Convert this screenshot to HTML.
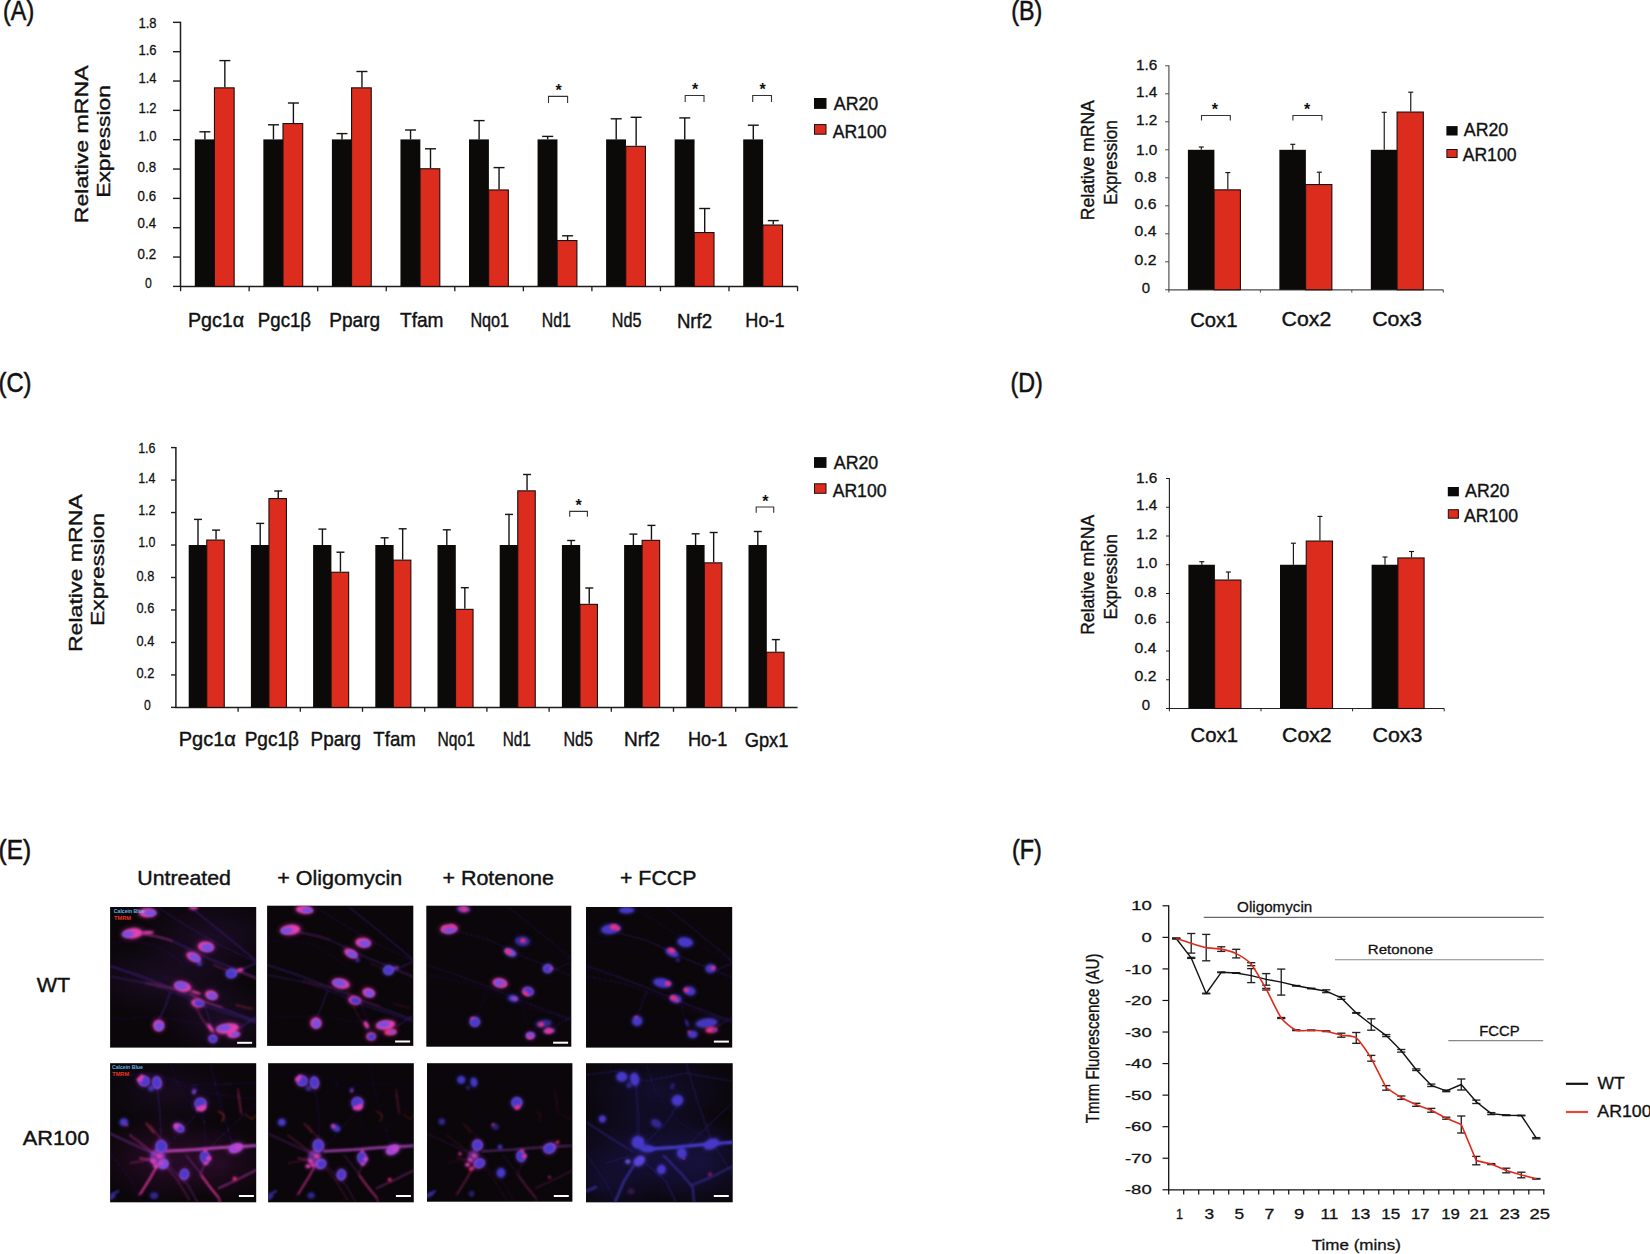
<!DOCTYPE html>
<html lang="en"><head><meta charset="utf-8"><title>Figure</title>
<style>
html,body{margin:0;padding:0;background:#fff;}
body{width:1650px;height:1254px;overflow:hidden;}
svg{display:block;font-family:'Liberation Sans', sans-serif;}
</style></head><body>
<svg width="1650" height="1254" viewBox="0 0 1650 1254">
<defs>
<filter id="b1" x="-10%" y="-10%" width="120%" height="120%"><feGaussianBlur stdDeviation="0.8"/></filter>
<filter id="b05" x="-10%" y="-10%" width="120%" height="120%"><feGaussianBlur stdDeviation="0.5"/></filter>
<filter id="b2" x="-10%" y="-10%" width="120%" height="120%"><feGaussianBlur stdDeviation="1.3"/></filter>
<filter id="b3" x="-20%" y="-20%" width="140%" height="140%"><feGaussianBlur stdDeviation="2.6"/></filter>
<filter id="b6" x="-30%" y="-30%" width="160%" height="160%"><feGaussianBlur stdDeviation="14"/></filter>
<radialGradient id="hzP"><stop offset="0" stop-color="#34164e" stop-opacity="1"/><stop offset="1" stop-color="#34164e" stop-opacity="0"/></radialGradient>
<radialGradient id="hzM"><stop offset="0" stop-color="#5a1458" stop-opacity="1"/><stop offset="1" stop-color="#5a1458" stop-opacity="0"/></radialGradient>
<radialGradient id="hzB"><stop offset="0" stop-color="#201a66" stop-opacity="1"/><stop offset="1" stop-color="#201a66" stop-opacity="0"/></radialGradient>
</defs>
<rect x="0" y="0" width="1650" height="1254" fill="#fff"/>
<g id="panelA">
<text x="3.1" y="19.6" font-size="27.4" fill="#111" stroke="#111" stroke-width="0.55" textLength="31.06" lengthAdjust="spacingAndGlyphs">(A)</text>
<line x1="180.5" y1="21.75" x2="180.5" y2="287" stroke="#1c1c1c" stroke-width="1.5" />
<line x1="179.9" y1="286.4" x2="797.8" y2="286.4" stroke="#1c1c1c" stroke-width="1.5" />
<line x1="173" y1="286.4" x2="180.5" y2="286.4" stroke="#1c1c1c" stroke-width="1.4" />
<text x="145.1" y="288.2" font-size="14.4" fill="#111" stroke="#111" stroke-width="0.29" textLength="6.81" lengthAdjust="spacingAndGlyphs">0</text>
<line x1="173" y1="257.06" x2="180.5" y2="257.06" stroke="#1c1c1c" stroke-width="1.4" />
<text x="137.6" y="258.7" font-size="14.4" fill="#111" stroke="#111" stroke-width="0.29" textLength="18.5" lengthAdjust="spacingAndGlyphs">0.2</text>
<line x1="173" y1="227.72" x2="180.5" y2="227.72" stroke="#1c1c1c" stroke-width="1.4" />
<text x="137.6" y="227.5" font-size="14.4" fill="#111" stroke="#111" stroke-width="0.29" textLength="18.5" lengthAdjust="spacingAndGlyphs">0.4</text>
<line x1="173" y1="198.38" x2="180.5" y2="198.38" stroke="#1c1c1c" stroke-width="1.4" />
<text x="137.6" y="200.9" font-size="14.4" fill="#111" stroke="#111" stroke-width="0.29" textLength="18.5" lengthAdjust="spacingAndGlyphs">0.6</text>
<line x1="173" y1="169.04" x2="180.5" y2="169.04" stroke="#1c1c1c" stroke-width="1.4" />
<text x="137.6" y="171.5" font-size="14.4" fill="#111" stroke="#111" stroke-width="0.29" textLength="18.5" lengthAdjust="spacingAndGlyphs">0.8</text>
<line x1="173" y1="139.71" x2="180.5" y2="139.71" stroke="#1c1c1c" stroke-width="1.4" />
<text x="138.4" y="141.2" font-size="14.4" fill="#111" stroke="#111" stroke-width="0.29" textLength="18.1" lengthAdjust="spacingAndGlyphs">1.0</text>
<line x1="173" y1="110.37" x2="180.5" y2="110.37" stroke="#1c1c1c" stroke-width="1.4" />
<text x="138.4" y="112.7" font-size="14.4" fill="#111" stroke="#111" stroke-width="0.29" textLength="18.1" lengthAdjust="spacingAndGlyphs">1.2</text>
<line x1="173" y1="81.03" x2="180.5" y2="81.03" stroke="#1c1c1c" stroke-width="1.4" />
<text x="138.4" y="82.5" font-size="14.4" fill="#111" stroke="#111" stroke-width="0.29" textLength="18.1" lengthAdjust="spacingAndGlyphs">1.4</text>
<line x1="173" y1="51.69" x2="180.5" y2="51.69" stroke="#1c1c1c" stroke-width="1.4" />
<text x="138.4" y="54.7" font-size="14.4" fill="#111" stroke="#111" stroke-width="0.29" textLength="18.1" lengthAdjust="spacingAndGlyphs">1.6</text>
<line x1="173" y1="22.35" x2="180.5" y2="22.35" stroke="#1c1c1c" stroke-width="1.4" />
<text x="138.4" y="28" font-size="14.4" fill="#111" stroke="#111" stroke-width="0.29" textLength="18.1" lengthAdjust="spacingAndGlyphs">1.8</text>
<line x1="180.6" y1="286.4" x2="180.6" y2="291.2" stroke="#1c1c1c" stroke-width="1.3" />
<line x1="249.15" y1="286.4" x2="249.15" y2="291.2" stroke="#1c1c1c" stroke-width="1.3" />
<line x1="317.7" y1="286.4" x2="317.7" y2="291.2" stroke="#1c1c1c" stroke-width="1.3" />
<line x1="386.25" y1="286.4" x2="386.25" y2="291.2" stroke="#1c1c1c" stroke-width="1.3" />
<line x1="454.8" y1="286.4" x2="454.8" y2="291.2" stroke="#1c1c1c" stroke-width="1.3" />
<line x1="523.35" y1="286.4" x2="523.35" y2="291.2" stroke="#1c1c1c" stroke-width="1.3" />
<line x1="591.9" y1="286.4" x2="591.9" y2="291.2" stroke="#1c1c1c" stroke-width="1.3" />
<line x1="660.45" y1="286.4" x2="660.45" y2="291.2" stroke="#1c1c1c" stroke-width="1.3" />
<line x1="729" y1="286.4" x2="729" y2="291.2" stroke="#1c1c1c" stroke-width="1.3" />
<line x1="797.55" y1="286.4" x2="797.55" y2="291.2" stroke="#1c1c1c" stroke-width="1.3" />
<text x="88" y="223.2" font-size="19" fill="#111" stroke="#111" stroke-width="0.38" textLength="157.79" lengthAdjust="spacingAndGlyphs" transform="rotate(-90 88 223.2)">Relative mRNA</text>
<text x="110.2" y="197.8" font-size="19" fill="#111" stroke="#111" stroke-width="0.38" textLength="112.74" lengthAdjust="spacingAndGlyphs" transform="rotate(-90 110.2 197.8)">Expression</text>
<line x1="204.9" y1="139.4" x2="204.9" y2="131.8" stroke="#141414" stroke-width="1.4" /><line x1="199.4" y1="131.8" x2="210.4" y2="131.8" stroke="#141414" stroke-width="1.4" /><line x1="224.85" y1="87.3" x2="224.85" y2="60.6" stroke="#141414" stroke-width="1.4" /><line x1="219.35" y1="60.6" x2="230.35" y2="60.6" stroke="#141414" stroke-width="1.4" /><rect x="194.8" y="139.4" width="19.9" height="147" fill="#0b0a08" /><rect x="214.45" y="87.85" width="19.7" height="198.55" fill="#dc2c1e" stroke="#1a0e0c" stroke-width="1.1" /><line x1="273.45" y1="139.4" x2="273.45" y2="124.8" stroke="#141414" stroke-width="1.4" /><line x1="267.95" y1="124.8" x2="278.95" y2="124.8" stroke="#141414" stroke-width="1.4" /><line x1="293.4" y1="123" x2="293.4" y2="103" stroke="#141414" stroke-width="1.4" /><line x1="287.9" y1="103" x2="298.9" y2="103" stroke="#141414" stroke-width="1.4" /><rect x="263.35" y="139.4" width="19.9" height="147" fill="#0b0a08" /><rect x="283" y="123.55" width="19.7" height="162.85" fill="#dc2c1e" stroke="#1a0e0c" stroke-width="1.1" /><line x1="342" y1="139.4" x2="342" y2="133.6" stroke="#141414" stroke-width="1.4" /><line x1="336.5" y1="133.6" x2="347.5" y2="133.6" stroke="#141414" stroke-width="1.4" /><line x1="361.95" y1="87.3" x2="361.95" y2="71.5" stroke="#141414" stroke-width="1.4" /><line x1="356.45" y1="71.5" x2="367.45" y2="71.5" stroke="#141414" stroke-width="1.4" /><rect x="331.9" y="139.4" width="19.9" height="147" fill="#0b0a08" /><rect x="351.55" y="87.85" width="19.7" height="198.55" fill="#dc2c1e" stroke="#1a0e0c" stroke-width="1.1" /><line x1="410.55" y1="139.4" x2="410.55" y2="130" stroke="#141414" stroke-width="1.4" /><line x1="405.05" y1="130" x2="416.05" y2="130" stroke="#141414" stroke-width="1.4" /><line x1="430.5" y1="168.2" x2="430.5" y2="148.8" stroke="#141414" stroke-width="1.4" /><line x1="425" y1="148.8" x2="436" y2="148.8" stroke="#141414" stroke-width="1.4" /><rect x="400.45" y="139.4" width="19.9" height="147" fill="#0b0a08" /><rect x="420.1" y="168.75" width="19.7" height="117.65" fill="#dc2c1e" stroke="#1a0e0c" stroke-width="1.1" /><line x1="479.1" y1="139.4" x2="479.1" y2="120.6" stroke="#141414" stroke-width="1.4" /><line x1="473.6" y1="120.6" x2="484.6" y2="120.6" stroke="#141414" stroke-width="1.4" /><line x1="499.05" y1="189.4" x2="499.05" y2="167.6" stroke="#141414" stroke-width="1.4" /><line x1="493.55" y1="167.6" x2="504.55" y2="167.6" stroke="#141414" stroke-width="1.4" /><rect x="469" y="139.4" width="19.9" height="147" fill="#0b0a08" /><rect x="488.65" y="189.95" width="19.7" height="96.45" fill="#dc2c1e" stroke="#1a0e0c" stroke-width="1.1" /><line x1="547.65" y1="139.4" x2="547.65" y2="136.4" stroke="#141414" stroke-width="1.4" /><line x1="542.15" y1="136.4" x2="553.15" y2="136.4" stroke="#141414" stroke-width="1.4" /><line x1="567.6" y1="240" x2="567.6" y2="235.8" stroke="#141414" stroke-width="1.4" /><line x1="562.1" y1="235.8" x2="573.1" y2="235.8" stroke="#141414" stroke-width="1.4" /><rect x="537.55" y="139.4" width="19.9" height="147" fill="#0b0a08" /><rect x="557.2" y="240.55" width="19.7" height="45.85" fill="#dc2c1e" stroke="#1a0e0c" stroke-width="1.1" /><line x1="616.2" y1="139.4" x2="616.2" y2="118.8" stroke="#141414" stroke-width="1.4" /><line x1="610.7" y1="118.8" x2="621.7" y2="118.8" stroke="#141414" stroke-width="1.4" /><line x1="636.15" y1="145.8" x2="636.15" y2="117.3" stroke="#141414" stroke-width="1.4" /><line x1="630.65" y1="117.3" x2="641.65" y2="117.3" stroke="#141414" stroke-width="1.4" /><rect x="606.1" y="139.4" width="19.9" height="147" fill="#0b0a08" /><rect x="625.75" y="146.35" width="19.7" height="140.05" fill="#dc2c1e" stroke="#1a0e0c" stroke-width="1.1" /><line x1="684.75" y1="139.4" x2="684.75" y2="117.9" stroke="#141414" stroke-width="1.4" /><line x1="679.25" y1="117.9" x2="690.25" y2="117.9" stroke="#141414" stroke-width="1.4" /><line x1="704.7" y1="232" x2="704.7" y2="208.5" stroke="#141414" stroke-width="1.4" /><line x1="699.2" y1="208.5" x2="710.2" y2="208.5" stroke="#141414" stroke-width="1.4" /><rect x="674.65" y="139.4" width="19.9" height="147" fill="#0b0a08" /><rect x="694.3" y="232.55" width="19.7" height="53.85" fill="#dc2c1e" stroke="#1a0e0c" stroke-width="1.1" /><line x1="753.3" y1="139.4" x2="753.3" y2="125.2" stroke="#141414" stroke-width="1.4" /><line x1="747.8" y1="125.2" x2="758.8" y2="125.2" stroke="#141414" stroke-width="1.4" /><line x1="773.25" y1="224.5" x2="773.25" y2="220.6" stroke="#141414" stroke-width="1.4" /><line x1="767.75" y1="220.6" x2="778.75" y2="220.6" stroke="#141414" stroke-width="1.4" /><rect x="743.2" y="139.4" width="19.9" height="147" fill="#0b0a08" /><rect x="762.85" y="225.05" width="19.7" height="61.35" fill="#dc2c1e" stroke="#1a0e0c" stroke-width="1.1" />
<text x="187.9" y="327.3" font-size="20.6" fill="#111" stroke="#111" stroke-width="0.41" textLength="56.25" lengthAdjust="spacingAndGlyphs">Pgc1α</text>
<text x="257.8" y="327.3" font-size="20.6" fill="#111" stroke="#111" stroke-width="0.41" textLength="53.29" lengthAdjust="spacingAndGlyphs">Pgc1β</text>
<text x="329.3" y="327" font-size="20.6" fill="#111" stroke="#111" stroke-width="0.41" textLength="50.87" lengthAdjust="spacingAndGlyphs">Pparg</text>
<text x="400" y="326.6" font-size="20.6" fill="#111" stroke="#111" stroke-width="0.41" textLength="43.56" lengthAdjust="spacingAndGlyphs">Tfam</text>
<text x="470.4" y="326.6" font-size="20.6" fill="#111" stroke="#111" stroke-width="0.41" textLength="38.71" lengthAdjust="spacingAndGlyphs">Nqo1</text>
<text x="541.7" y="326.6" font-size="20.6" fill="#111" stroke="#111" stroke-width="0.41" textLength="29.09" lengthAdjust="spacingAndGlyphs">Nd1</text>
<text x="611.8" y="326.6" font-size="20.6" fill="#111" stroke="#111" stroke-width="0.41" textLength="29.69" lengthAdjust="spacingAndGlyphs">Nd5</text>
<text x="676.9" y="327.9" font-size="20.6" fill="#111" stroke="#111" stroke-width="0.41" textLength="35.19" lengthAdjust="spacingAndGlyphs">Nrf2</text>
<text x="745.3" y="327" font-size="20.6" fill="#111" stroke="#111" stroke-width="0.41" textLength="39.26" lengthAdjust="spacingAndGlyphs">Ho-1</text>
<path d="M548.5 103 V96.4 H567.6 V103" stroke="#333" stroke-width="1.1" fill="none" /><text x="555.38" y="96.2" font-size="16" fill="#111" textLength="6.23" lengthAdjust="spacingAndGlyphs" font-weight="bold">*</text>
<path d="M685.2 102 V95.5 H704 V102" stroke="#333" stroke-width="1.1" fill="none" /><text x="691.88" y="95.2" font-size="16" fill="#111" textLength="6.23" lengthAdjust="spacingAndGlyphs" font-weight="bold">*</text>
<path d="M752.7 102 V95.5 H771.5 V102" stroke="#333" stroke-width="1.1" fill="none" /><text x="759.58" y="95.2" font-size="16" fill="#111" textLength="6.23" lengthAdjust="spacingAndGlyphs" font-weight="bold">*</text>
<rect x="814" y="98" width="12.5" height="10.9" fill="#0b0a08" /><rect x="814.5" y="124.6" width="11.5" height="9.6" fill="#dc2c1e" stroke="#1a0e0c" stroke-width="1" /><text x="833.8" y="109.5" font-size="18.3" fill="#111" stroke="#111" stroke-width="0.37" textLength="44.43" lengthAdjust="spacingAndGlyphs">AR20</text><text x="832.7" y="138.2" font-size="18.3" fill="#111" stroke="#111" stroke-width="0.37" textLength="53.76" lengthAdjust="spacingAndGlyphs">AR100</text>
</g>
<g id="panelB">
<text x="1011.3" y="19.6" font-size="27.4" fill="#111" stroke="#111" stroke-width="0.55" textLength="31.06" lengthAdjust="spacingAndGlyphs">(B)</text>
<line x1="1168.9" y1="65.3" x2="1168.9" y2="290.3" stroke="#4a4a4a" stroke-width="1.15" />
<line x1="1168.4" y1="289.8" x2="1443.3" y2="289.8" stroke="#4a4a4a" stroke-width="1.15" />
<line x1="1165.1" y1="289.8" x2="1168.9" y2="289.8" stroke="#4a4a4a" stroke-width="1" />
<text x="1141.8" y="292.5" font-size="15" fill="#111" stroke="#111" stroke-width="0.3" textLength="8.32" lengthAdjust="spacingAndGlyphs">0</text>
<line x1="1165.1" y1="261.8" x2="1168.9" y2="261.8" stroke="#4a4a4a" stroke-width="1" />
<text x="1134.5" y="264.7" font-size="15" fill="#111" stroke="#111" stroke-width="0.3" textLength="21.9" lengthAdjust="spacingAndGlyphs">0.2</text>
<line x1="1165.1" y1="233.8" x2="1168.9" y2="233.8" stroke="#4a4a4a" stroke-width="1" />
<text x="1134.5" y="236.2" font-size="15" fill="#111" stroke="#111" stroke-width="0.3" textLength="21.9" lengthAdjust="spacingAndGlyphs">0.4</text>
<line x1="1165.1" y1="205.8" x2="1168.9" y2="205.8" stroke="#4a4a4a" stroke-width="1" />
<text x="1134.5" y="209.1" font-size="15" fill="#111" stroke="#111" stroke-width="0.3" textLength="21.9" lengthAdjust="spacingAndGlyphs">0.6</text>
<line x1="1165.1" y1="177.8" x2="1168.9" y2="177.8" stroke="#4a4a4a" stroke-width="1" />
<text x="1134.5" y="182.2" font-size="15" fill="#111" stroke="#111" stroke-width="0.3" textLength="21.9" lengthAdjust="spacingAndGlyphs">0.8</text>
<line x1="1165.1" y1="149.8" x2="1168.9" y2="149.8" stroke="#4a4a4a" stroke-width="1" />
<text x="1136" y="154.5" font-size="15" fill="#111" stroke="#111" stroke-width="0.3" textLength="21.3" lengthAdjust="spacingAndGlyphs">1.0</text>
<line x1="1165.1" y1="121.8" x2="1168.9" y2="121.8" stroke="#4a4a4a" stroke-width="1" />
<text x="1136" y="125.1" font-size="15" fill="#111" stroke="#111" stroke-width="0.3" textLength="21.3" lengthAdjust="spacingAndGlyphs">1.2</text>
<line x1="1165.1" y1="93.8" x2="1168.9" y2="93.8" stroke="#4a4a4a" stroke-width="1" />
<text x="1136" y="97.3" font-size="15" fill="#111" stroke="#111" stroke-width="0.3" textLength="21.3" lengthAdjust="spacingAndGlyphs">1.4</text>
<line x1="1165.1" y1="65.8" x2="1168.9" y2="65.8" stroke="#4a4a4a" stroke-width="1" />
<text x="1136" y="69.7" font-size="15" fill="#111" stroke="#111" stroke-width="0.3" textLength="21.3" lengthAdjust="spacingAndGlyphs">1.6</text>
<line x1="1168.9" y1="289.8" x2="1168.9" y2="292.6" stroke="#4a4a4a" stroke-width="1" />
<line x1="1260.37" y1="289.8" x2="1260.37" y2="292.6" stroke="#4a4a4a" stroke-width="1" />
<line x1="1351.83" y1="289.8" x2="1351.83" y2="292.6" stroke="#4a4a4a" stroke-width="1" />
<line x1="1443.3" y1="289.8" x2="1443.3" y2="292.6" stroke="#4a4a4a" stroke-width="1" />
<text x="1094.4" y="220.2" font-size="18.9" fill="#111" stroke="#111" stroke-width="0.38" textLength="120.01" lengthAdjust="spacingAndGlyphs" transform="rotate(-90 1094.4 220.2)">Relative mRNA</text>
<text x="1116.7" y="204.9" font-size="18.9" fill="#111" stroke="#111" stroke-width="0.38" textLength="84.73" lengthAdjust="spacingAndGlyphs" transform="rotate(-90 1116.7 204.9)">Expression</text>
<line x1="1201.3" y1="149.8" x2="1201.3" y2="147" stroke="#141414" stroke-width="1.15" /><line x1="1198.8" y1="147" x2="1203.8" y2="147" stroke="#141414" stroke-width="1.15" /><line x1="1227.83" y1="189.3" x2="1227.83" y2="172.6" stroke="#141414" stroke-width="1.15" /><line x1="1225.33" y1="172.6" x2="1230.33" y2="172.6" stroke="#141414" stroke-width="1.15" /><rect x="1187.9" y="149.8" width="26.5" height="140" fill="#0b0a08" /><rect x="1214.15" y="189.85" width="26.25" height="99.95" fill="#dc2c1e" stroke="#1a0e0c" stroke-width="1.1" /><line x1="1292.77" y1="149.8" x2="1292.77" y2="144.3" stroke="#141414" stroke-width="1.15" /><line x1="1290.27" y1="144.3" x2="1295.27" y2="144.3" stroke="#141414" stroke-width="1.15" /><line x1="1319.29" y1="184" x2="1319.29" y2="172.2" stroke="#141414" stroke-width="1.15" /><line x1="1316.79" y1="172.2" x2="1321.79" y2="172.2" stroke="#141414" stroke-width="1.15" /><rect x="1279.37" y="149.8" width="26.5" height="140" fill="#0b0a08" /><rect x="1305.62" y="184.55" width="26.25" height="105.25" fill="#dc2c1e" stroke="#1a0e0c" stroke-width="1.1" /><line x1="1384.23" y1="149.8" x2="1384.23" y2="112.3" stroke="#141414" stroke-width="1.15" /><line x1="1381.73" y1="112.3" x2="1386.73" y2="112.3" stroke="#141414" stroke-width="1.15" /><line x1="1410.76" y1="111.5" x2="1410.76" y2="92.2" stroke="#141414" stroke-width="1.15" /><line x1="1408.26" y1="92.2" x2="1413.26" y2="92.2" stroke="#141414" stroke-width="1.15" /><rect x="1370.83" y="149.8" width="26.5" height="140" fill="#0b0a08" /><rect x="1397.08" y="112.05" width="26.25" height="177.75" fill="#dc2c1e" stroke="#1a0e0c" stroke-width="1.1" />
<text x="1190.2" y="327.1" font-size="20.6" fill="#111" stroke="#111" stroke-width="0.41" textLength="47.29" lengthAdjust="spacingAndGlyphs">Cox1</text>
<text x="1281.6" y="326" font-size="20.6" fill="#111" stroke="#111" stroke-width="0.41" textLength="49.69" lengthAdjust="spacingAndGlyphs">Cox2</text>
<text x="1372.2" y="326" font-size="20.6" fill="#111" stroke="#111" stroke-width="0.41" textLength="49.69" lengthAdjust="spacingAndGlyphs">Cox3</text>
<path d="M1201.5 120.5 V115.5 H1230.3 V120.5" stroke="#333" stroke-width="1.1" fill="none" /><text x="1211.78" y="115.2" font-size="16" fill="#111" textLength="6.23" lengthAdjust="spacingAndGlyphs" font-weight="bold">*</text>
<path d="M1292.9 120.5 V115.5 H1321.9 V120.5" stroke="#333" stroke-width="1.1" fill="none" /><text x="1303.88" y="115.2" font-size="16" fill="#111" textLength="6.23" lengthAdjust="spacingAndGlyphs" font-weight="bold">*</text>
<rect x="1446.4" y="126.1" width="11.2" height="9.4" fill="#0b0a08" /><rect x="1446.9" y="149.5" width="10.2" height="8" fill="#dc2c1e" stroke="#1a0e0c" stroke-width="1" /><text x="1463.8" y="135.9" font-size="18.3" fill="#111" stroke="#111" stroke-width="0.37" textLength="44.43" lengthAdjust="spacingAndGlyphs">AR20</text><text x="1462.7" y="161.1" font-size="18.3" fill="#111" stroke="#111" stroke-width="0.37" textLength="53.76" lengthAdjust="spacingAndGlyphs">AR100</text>
</g>
<g id="panelC">
<text x="-1.5" y="391.8" font-size="27.4" fill="#111" stroke="#111" stroke-width="0.55" textLength="33.06" lengthAdjust="spacingAndGlyphs">(C)</text>
<line x1="175.9" y1="447" x2="175.9" y2="708" stroke="#1c1c1c" stroke-width="1.5" />
<line x1="175.3" y1="707.4" x2="797.6" y2="707.4" stroke="#1c1c1c" stroke-width="1.5" />
<line x1="171" y1="707.4" x2="175.9" y2="707.4" stroke="#1c1c1c" stroke-width="1.4" />
<text x="143.9" y="710.4" font-size="14.4" fill="#111" stroke="#111" stroke-width="0.29" textLength="6.81" lengthAdjust="spacingAndGlyphs">0</text>
<line x1="171" y1="674.92" x2="175.9" y2="674.92" stroke="#1c1c1c" stroke-width="1.4" />
<text x="136.5" y="677.9" font-size="14.4" fill="#111" stroke="#111" stroke-width="0.29" textLength="17.8" lengthAdjust="spacingAndGlyphs">0.2</text>
<line x1="171" y1="642.45" x2="175.9" y2="642.45" stroke="#1c1c1c" stroke-width="1.4" />
<text x="136.5" y="646.2" font-size="14.4" fill="#111" stroke="#111" stroke-width="0.29" textLength="17.8" lengthAdjust="spacingAndGlyphs">0.4</text>
<line x1="171" y1="609.98" x2="175.9" y2="609.98" stroke="#1c1c1c" stroke-width="1.4" />
<text x="136.5" y="613.3" font-size="14.4" fill="#111" stroke="#111" stroke-width="0.29" textLength="17.8" lengthAdjust="spacingAndGlyphs">0.6</text>
<line x1="171" y1="577.5" x2="175.9" y2="577.5" stroke="#1c1c1c" stroke-width="1.4" />
<text x="136.5" y="580.7" font-size="14.4" fill="#111" stroke="#111" stroke-width="0.29" textLength="17.8" lengthAdjust="spacingAndGlyphs">0.8</text>
<line x1="171" y1="545.02" x2="175.9" y2="545.02" stroke="#1c1c1c" stroke-width="1.4" />
<text x="138.2" y="546.9" font-size="14.4" fill="#111" stroke="#111" stroke-width="0.29" textLength="17.3" lengthAdjust="spacingAndGlyphs">1.0</text>
<line x1="171" y1="512.55" x2="175.9" y2="512.55" stroke="#1c1c1c" stroke-width="1.4" />
<text x="138.2" y="514.6" font-size="14.4" fill="#111" stroke="#111" stroke-width="0.29" textLength="17.3" lengthAdjust="spacingAndGlyphs">1.2</text>
<line x1="171" y1="480.08" x2="175.9" y2="480.08" stroke="#1c1c1c" stroke-width="1.4" />
<text x="138.2" y="482.5" font-size="14.4" fill="#111" stroke="#111" stroke-width="0.29" textLength="17.3" lengthAdjust="spacingAndGlyphs">1.4</text>
<line x1="171" y1="447.6" x2="175.9" y2="447.6" stroke="#1c1c1c" stroke-width="1.4" />
<text x="138.2" y="452.9" font-size="14.4" fill="#111" stroke="#111" stroke-width="0.29" textLength="17.3" lengthAdjust="spacingAndGlyphs">1.6</text>
<line x1="238.1" y1="707.4" x2="238.1" y2="711.8" stroke="#1c1c1c" stroke-width="1.3" />
<line x1="300.3" y1="707.4" x2="300.3" y2="711.8" stroke="#1c1c1c" stroke-width="1.3" />
<line x1="362.5" y1="707.4" x2="362.5" y2="711.8" stroke="#1c1c1c" stroke-width="1.3" />
<line x1="424.7" y1="707.4" x2="424.7" y2="711.8" stroke="#1c1c1c" stroke-width="1.3" />
<line x1="486.9" y1="707.4" x2="486.9" y2="711.8" stroke="#1c1c1c" stroke-width="1.3" />
<line x1="549.1" y1="707.4" x2="549.1" y2="711.8" stroke="#1c1c1c" stroke-width="1.3" />
<line x1="611.3" y1="707.4" x2="611.3" y2="711.8" stroke="#1c1c1c" stroke-width="1.3" />
<line x1="673.5" y1="707.4" x2="673.5" y2="711.8" stroke="#1c1c1c" stroke-width="1.3" />
<line x1="735.7" y1="707.4" x2="735.7" y2="711.8" stroke="#1c1c1c" stroke-width="1.3" />
<text x="81.9" y="652.1" font-size="18.6" fill="#111" stroke="#111" stroke-width="0.37" textLength="157.99" lengthAdjust="spacingAndGlyphs" transform="rotate(-90 81.9 652.1)">Relative mRNA</text>
<text x="104" y="625.9" font-size="18.6" fill="#111" stroke="#111" stroke-width="0.37" textLength="112.74" lengthAdjust="spacingAndGlyphs" transform="rotate(-90 104 625.9)">Expression</text>
<line x1="198" y1="545" x2="198" y2="519.4" stroke="#141414" stroke-width="1.4" /><line x1="194" y1="519.4" x2="202" y2="519.4" stroke="#141414" stroke-width="1.4" /><line x1="216.05" y1="539.5" x2="216.05" y2="530.1" stroke="#141414" stroke-width="1.4" /><line x1="212.05" y1="530.1" x2="220.05" y2="530.1" stroke="#141414" stroke-width="1.4" /><rect x="188.7" y="545" width="18.3" height="162.4" fill="#0b0a08" /><rect x="206.75" y="540.05" width="17.5" height="167.35" fill="#dc2c1e" stroke="#1a0e0c" stroke-width="1.1" /><line x1="260.2" y1="545" x2="260.2" y2="523.4" stroke="#141414" stroke-width="1.4" /><line x1="256.2" y1="523.4" x2="264.2" y2="523.4" stroke="#141414" stroke-width="1.4" /><line x1="278.25" y1="498" x2="278.25" y2="491" stroke="#141414" stroke-width="1.4" /><line x1="274.25" y1="491" x2="282.25" y2="491" stroke="#141414" stroke-width="1.4" /><rect x="250.9" y="545" width="18.3" height="162.4" fill="#0b0a08" /><rect x="268.95" y="498.55" width="17.5" height="208.85" fill="#dc2c1e" stroke="#1a0e0c" stroke-width="1.1" /><line x1="322.4" y1="545" x2="322.4" y2="529.1" stroke="#141414" stroke-width="1.4" /><line x1="318.4" y1="529.1" x2="326.4" y2="529.1" stroke="#141414" stroke-width="1.4" /><line x1="340.45" y1="571.7" x2="340.45" y2="552.2" stroke="#141414" stroke-width="1.4" /><line x1="336.45" y1="552.2" x2="344.45" y2="552.2" stroke="#141414" stroke-width="1.4" /><rect x="313.1" y="545" width="18.3" height="162.4" fill="#0b0a08" /><rect x="331.15" y="572.25" width="17.5" height="135.15" fill="#dc2c1e" stroke="#1a0e0c" stroke-width="1.1" /><line x1="384.6" y1="545" x2="384.6" y2="537.8" stroke="#141414" stroke-width="1.4" /><line x1="380.6" y1="537.8" x2="388.6" y2="537.8" stroke="#141414" stroke-width="1.4" /><line x1="402.65" y1="559.6" x2="402.65" y2="528.8" stroke="#141414" stroke-width="1.4" /><line x1="398.65" y1="528.8" x2="406.65" y2="528.8" stroke="#141414" stroke-width="1.4" /><rect x="375.3" y="545" width="18.3" height="162.4" fill="#0b0a08" /><rect x="393.35" y="560.15" width="17.5" height="147.25" fill="#dc2c1e" stroke="#1a0e0c" stroke-width="1.1" /><line x1="446.8" y1="545" x2="446.8" y2="529.8" stroke="#141414" stroke-width="1.4" /><line x1="442.8" y1="529.8" x2="450.8" y2="529.8" stroke="#141414" stroke-width="1.4" /><line x1="464.85" y1="608.8" x2="464.85" y2="587.7" stroke="#141414" stroke-width="1.4" /><line x1="460.85" y1="587.7" x2="468.85" y2="587.7" stroke="#141414" stroke-width="1.4" /><rect x="437.5" y="545" width="18.3" height="162.4" fill="#0b0a08" /><rect x="455.55" y="609.35" width="17.5" height="98.05" fill="#dc2c1e" stroke="#1a0e0c" stroke-width="1.1" /><line x1="509" y1="545" x2="509" y2="514.4" stroke="#141414" stroke-width="1.4" /><line x1="505" y1="514.4" x2="513" y2="514.4" stroke="#141414" stroke-width="1.4" /><line x1="527.05" y1="490.3" x2="527.05" y2="474.5" stroke="#141414" stroke-width="1.4" /><line x1="523.05" y1="474.5" x2="531.05" y2="474.5" stroke="#141414" stroke-width="1.4" /><rect x="499.7" y="545" width="18.3" height="162.4" fill="#0b0a08" /><rect x="517.75" y="490.85" width="17.5" height="216.55" fill="#dc2c1e" stroke="#1a0e0c" stroke-width="1.1" /><line x1="571.2" y1="545" x2="571.2" y2="540.5" stroke="#141414" stroke-width="1.4" /><line x1="567.2" y1="540.5" x2="575.2" y2="540.5" stroke="#141414" stroke-width="1.4" /><line x1="589.25" y1="603.8" x2="589.25" y2="588" stroke="#141414" stroke-width="1.4" /><line x1="585.25" y1="588" x2="593.25" y2="588" stroke="#141414" stroke-width="1.4" /><rect x="561.9" y="545" width="18.3" height="162.4" fill="#0b0a08" /><rect x="579.95" y="604.35" width="17.5" height="103.05" fill="#dc2c1e" stroke="#1a0e0c" stroke-width="1.1" /><line x1="633.4" y1="545" x2="633.4" y2="534.1" stroke="#141414" stroke-width="1.4" /><line x1="629.4" y1="534.1" x2="637.4" y2="534.1" stroke="#141414" stroke-width="1.4" /><line x1="651.45" y1="539.8" x2="651.45" y2="525.4" stroke="#141414" stroke-width="1.4" /><line x1="647.45" y1="525.4" x2="655.45" y2="525.4" stroke="#141414" stroke-width="1.4" /><rect x="624.1" y="545" width="18.3" height="162.4" fill="#0b0a08" /><rect x="642.15" y="540.35" width="17.5" height="167.05" fill="#dc2c1e" stroke="#1a0e0c" stroke-width="1.1" /><line x1="695.6" y1="545" x2="695.6" y2="533.8" stroke="#141414" stroke-width="1.4" /><line x1="691.6" y1="533.8" x2="699.6" y2="533.8" stroke="#141414" stroke-width="1.4" /><line x1="713.65" y1="562.3" x2="713.65" y2="532.5" stroke="#141414" stroke-width="1.4" /><line x1="709.65" y1="532.5" x2="717.65" y2="532.5" stroke="#141414" stroke-width="1.4" /><rect x="686.3" y="545" width="18.3" height="162.4" fill="#0b0a08" /><rect x="704.35" y="562.85" width="17.5" height="144.55" fill="#dc2c1e" stroke="#1a0e0c" stroke-width="1.1" /><line x1="757.8" y1="545" x2="757.8" y2="531.5" stroke="#141414" stroke-width="1.4" /><line x1="753.8" y1="531.5" x2="761.8" y2="531.5" stroke="#141414" stroke-width="1.4" /><line x1="775.85" y1="651.7" x2="775.85" y2="639.6" stroke="#141414" stroke-width="1.4" /><line x1="771.85" y1="639.6" x2="779.85" y2="639.6" stroke="#141414" stroke-width="1.4" /><rect x="748.5" y="545" width="18.3" height="162.4" fill="#0b0a08" /><rect x="766.55" y="652.25" width="17.5" height="55.15" fill="#dc2c1e" stroke="#1a0e0c" stroke-width="1.1" />
<text x="178.7" y="746" font-size="20.3" fill="#111" stroke="#111" stroke-width="0.41" textLength="57.15" lengthAdjust="spacingAndGlyphs">Pgc1α</text>
<text x="244.7" y="746" font-size="20.3" fill="#111" stroke="#111" stroke-width="0.41" textLength="54.29" lengthAdjust="spacingAndGlyphs">Pgc1β</text>
<text x="310.6" y="746" font-size="20.3" fill="#111" stroke="#111" stroke-width="0.41" textLength="50.37" lengthAdjust="spacingAndGlyphs">Pparg</text>
<text x="373.3" y="746" font-size="20.3" fill="#111" stroke="#111" stroke-width="0.41" textLength="42.56" lengthAdjust="spacingAndGlyphs">Tfam</text>
<text x="437.6" y="746" font-size="20.3" fill="#111" stroke="#111" stroke-width="0.41" textLength="37.31" lengthAdjust="spacingAndGlyphs">Nqo1</text>
<text x="502.7" y="745.6" font-size="20.3" fill="#111" stroke="#111" stroke-width="0.41" textLength="28.09" lengthAdjust="spacingAndGlyphs">Nd1</text>
<text x="563.4" y="745.6" font-size="20.3" fill="#111" stroke="#111" stroke-width="0.41" textLength="29.49" lengthAdjust="spacingAndGlyphs">Nd5</text>
<text x="623.9" y="746" font-size="20.3" fill="#111" stroke="#111" stroke-width="0.41" textLength="36.09" lengthAdjust="spacingAndGlyphs">Nrf2</text>
<text x="687.9" y="745.6" font-size="20.3" fill="#111" stroke="#111" stroke-width="0.41" textLength="39.36" lengthAdjust="spacingAndGlyphs">Ho-1</text>
<text x="744.7" y="746.6" font-size="20.3" fill="#111" stroke="#111" stroke-width="0.41" textLength="43.7" lengthAdjust="spacingAndGlyphs">Gpx1</text>
<path d="M569.7 516.7 V511.4 H587.4 V516.7" stroke="#333" stroke-width="1.1" fill="none" /><text x="575.58" y="511.2" font-size="16" fill="#111" textLength="6.23" lengthAdjust="spacingAndGlyphs" font-weight="bold">*</text>
<path d="M756.2 512.7 V507 H773.7 V512.7" stroke="#333" stroke-width="1.1" fill="none" /><text x="762.18" y="507.2" font-size="16" fill="#111" textLength="6.23" lengthAdjust="spacingAndGlyphs" font-weight="bold">*</text>
<rect x="814" y="457.1" width="12.5" height="10.8" fill="#0b0a08" /><rect x="814.5" y="483.8" width="11.5" height="9.5" fill="#dc2c1e" stroke="#1a0e0c" stroke-width="1" /><text x="833.8" y="468.6" font-size="18.3" fill="#111" stroke="#111" stroke-width="0.37" textLength="44.43" lengthAdjust="spacingAndGlyphs">AR20</text><text x="832.7" y="497.3" font-size="18.3" fill="#111" stroke="#111" stroke-width="0.37" textLength="53.76" lengthAdjust="spacingAndGlyphs">AR100</text>
</g>
<g id="panelD">
<text x="1010.5" y="391.8" font-size="27.4" fill="#111" stroke="#111" stroke-width="0.55" textLength="32.36" lengthAdjust="spacingAndGlyphs">(D)</text>
<line x1="1169.4" y1="478" x2="1169.4" y2="709" stroke="#222" stroke-width="1.15" />
<line x1="1168.9" y1="708.5" x2="1444.2" y2="708.5" stroke="#222" stroke-width="1.15" />
<line x1="1166" y1="708.5" x2="1169.4" y2="708.5" stroke="#222" stroke-width="1" />
<text x="1141.8" y="709.8" font-size="15" fill="#111" stroke="#111" stroke-width="0.3" textLength="8.32" lengthAdjust="spacingAndGlyphs">0</text>
<line x1="1166" y1="679.75" x2="1169.4" y2="679.75" stroke="#222" stroke-width="1" />
<text x="1134.5" y="681.4" font-size="15" fill="#111" stroke="#111" stroke-width="0.3" textLength="21.9" lengthAdjust="spacingAndGlyphs">0.2</text>
<line x1="1166" y1="651" x2="1169.4" y2="651" stroke="#222" stroke-width="1" />
<text x="1134.5" y="652.7" font-size="15" fill="#111" stroke="#111" stroke-width="0.3" textLength="21.9" lengthAdjust="spacingAndGlyphs">0.4</text>
<line x1="1166" y1="622.25" x2="1169.4" y2="622.25" stroke="#222" stroke-width="1" />
<text x="1134.5" y="623.9" font-size="15" fill="#111" stroke="#111" stroke-width="0.3" textLength="21.9" lengthAdjust="spacingAndGlyphs">0.6</text>
<line x1="1166" y1="593.5" x2="1169.4" y2="593.5" stroke="#222" stroke-width="1" />
<text x="1134.5" y="596.6" font-size="15" fill="#111" stroke="#111" stroke-width="0.3" textLength="21.9" lengthAdjust="spacingAndGlyphs">0.8</text>
<line x1="1166" y1="564.75" x2="1169.4" y2="564.75" stroke="#222" stroke-width="1" />
<text x="1136" y="568.1" font-size="15" fill="#111" stroke="#111" stroke-width="0.3" textLength="21.3" lengthAdjust="spacingAndGlyphs">1.0</text>
<line x1="1166" y1="536" x2="1169.4" y2="536" stroke="#222" stroke-width="1" />
<text x="1136" y="539.2" font-size="15" fill="#111" stroke="#111" stroke-width="0.3" textLength="21.3" lengthAdjust="spacingAndGlyphs">1.2</text>
<line x1="1166" y1="507.25" x2="1169.4" y2="507.25" stroke="#222" stroke-width="1" />
<text x="1136" y="510.2" font-size="15" fill="#111" stroke="#111" stroke-width="0.3" textLength="21.3" lengthAdjust="spacingAndGlyphs">1.4</text>
<line x1="1166" y1="478.5" x2="1169.4" y2="478.5" stroke="#222" stroke-width="1" />
<text x="1136" y="482.7" font-size="15" fill="#111" stroke="#111" stroke-width="0.3" textLength="21.3" lengthAdjust="spacingAndGlyphs">1.6</text>
<line x1="1169.4" y1="708.5" x2="1169.4" y2="711.3" stroke="#222" stroke-width="1" />
<line x1="1261" y1="708.5" x2="1261" y2="711.3" stroke="#222" stroke-width="1" />
<line x1="1352.6" y1="708.5" x2="1352.6" y2="711.3" stroke="#222" stroke-width="1" />
<line x1="1444.2" y1="708.5" x2="1444.2" y2="711.3" stroke="#222" stroke-width="1" />
<text x="1094.4" y="634.8" font-size="18.9" fill="#111" stroke="#111" stroke-width="0.38" textLength="119.92" lengthAdjust="spacingAndGlyphs" transform="rotate(-90 1094.4 634.8)">Relative mRNA</text>
<text x="1116.7" y="619.5" font-size="18.9" fill="#111" stroke="#111" stroke-width="0.38" textLength="85.23" lengthAdjust="spacingAndGlyphs" transform="rotate(-90 1116.7 619.5)">Expression</text>
<line x1="1201.8" y1="564.75" x2="1201.8" y2="561.7" stroke="#141414" stroke-width="1.15" /><line x1="1199.3" y1="561.7" x2="1204.3" y2="561.7" stroke="#141414" stroke-width="1.15" /><line x1="1228.33" y1="579.5" x2="1228.33" y2="572" stroke="#141414" stroke-width="1.15" /><line x1="1225.83" y1="572" x2="1230.83" y2="572" stroke="#141414" stroke-width="1.15" /><rect x="1188.4" y="564.75" width="26.5" height="143.75" fill="#0b0a08" /><rect x="1214.65" y="580.05" width="26.25" height="128.45" fill="#dc2c1e" stroke="#1a0e0c" stroke-width="1.1" /><line x1="1293.4" y1="564.75" x2="1293.4" y2="543.2" stroke="#141414" stroke-width="1.15" /><line x1="1290.9" y1="543.2" x2="1295.9" y2="543.2" stroke="#141414" stroke-width="1.15" /><line x1="1319.92" y1="540.5" x2="1319.92" y2="516.4" stroke="#141414" stroke-width="1.15" /><line x1="1317.42" y1="516.4" x2="1322.42" y2="516.4" stroke="#141414" stroke-width="1.15" /><rect x="1280" y="564.75" width="26.5" height="143.75" fill="#0b0a08" /><rect x="1306.25" y="541.05" width="26.25" height="167.45" fill="#dc2c1e" stroke="#1a0e0c" stroke-width="1.1" /><line x1="1385" y1="564.75" x2="1385" y2="557" stroke="#141414" stroke-width="1.15" /><line x1="1382.5" y1="557" x2="1387.5" y2="557" stroke="#141414" stroke-width="1.15" /><line x1="1411.53" y1="557.4" x2="1411.53" y2="551.5" stroke="#141414" stroke-width="1.15" /><line x1="1409.03" y1="551.5" x2="1414.03" y2="551.5" stroke="#141414" stroke-width="1.15" /><rect x="1371.6" y="564.75" width="26.5" height="143.75" fill="#0b0a08" /><rect x="1397.85" y="557.95" width="26.25" height="150.55" fill="#dc2c1e" stroke="#1a0e0c" stroke-width="1.1" />
<text x="1190.6" y="741.5" font-size="20.6" fill="#111" stroke="#111" stroke-width="0.41" textLength="47.39" lengthAdjust="spacingAndGlyphs">Cox1</text>
<text x="1282.1" y="741.5" font-size="20.6" fill="#111" stroke="#111" stroke-width="0.41" textLength="49.59" lengthAdjust="spacingAndGlyphs">Cox2</text>
<text x="1372.6" y="741.5" font-size="20.6" fill="#111" stroke="#111" stroke-width="0.41" textLength="49.79" lengthAdjust="spacingAndGlyphs">Cox3</text>
<rect x="1447.8" y="487" width="11.1" height="9.3" fill="#0b0a08" /><rect x="1448.3" y="509.7" width="10.1" height="8.5" fill="#dc2c1e" stroke="#1a0e0c" stroke-width="1" /><text x="1465.1" y="496.8" font-size="18.3" fill="#111" stroke="#111" stroke-width="0.37" textLength="44.33" lengthAdjust="spacingAndGlyphs">AR20</text><text x="1464" y="521.7" font-size="18.3" fill="#111" stroke="#111" stroke-width="0.37" textLength="53.96" lengthAdjust="spacingAndGlyphs">AR100</text>
</g>
<g id="panelE">
<text x="-1.5" y="858.7" font-size="27.4" fill="#111" stroke="#111" stroke-width="0.55" textLength="32.55" lengthAdjust="spacingAndGlyphs">(E)</text>
<text x="137.3" y="885.1" font-size="19.8" fill="#111" stroke="#111" stroke-width="0.4" textLength="93.64" lengthAdjust="spacingAndGlyphs">Untreated</text>
<text x="277.3" y="885.1" font-size="19.8" fill="#111" stroke="#111" stroke-width="0.4" textLength="124.85" lengthAdjust="spacingAndGlyphs">+ Oligomycin</text>
<text x="442.4" y="885.1" font-size="19.8" fill="#111" stroke="#111" stroke-width="0.4" textLength="111.57" lengthAdjust="spacingAndGlyphs">+ Rotenone</text>
<text x="620" y="885.1" font-size="19.8" fill="#111" stroke="#111" stroke-width="0.4" textLength="76.38" lengthAdjust="spacingAndGlyphs">+ FCCP</text>
<text x="36.8" y="991.6" font-size="21" fill="#111" stroke="#111" stroke-width="0.42" textLength="33.49" lengthAdjust="spacingAndGlyphs">WT</text>
<text x="22.8" y="1144.7" font-size="21" fill="#111" stroke="#111" stroke-width="0.42" textLength="66.45" lengthAdjust="spacingAndGlyphs">AR100</text>
<g transform="translate(110.1 907)">
<clipPath id="cp0"><rect x="0" y="0" width="146.1" height="140.6"/></clipPath>
<rect x="0" y="0" width="146.1" height="140.6" fill="#0a0609" />
<g clip-path="url(#cp0)">
<ellipse cx="100" cy="30" rx="75" ry="40" fill="url(#hzP)" opacity="0.4"/>
<ellipse cx="55" cy="72" rx="85" ry="40" fill="url(#hzP)" opacity="0.4"/>
<ellipse cx="110" cy="112" rx="60" ry="40" fill="url(#hzP)" opacity="0.4"/>
<g filter="url(#b1)" fill="none" stroke-linecap="round" stroke-linejoin="round">
<path d="M0 59 L30 69 L62.8 81.5 L100 97 L146 114" stroke="#3a1f78" stroke-width="1.6" opacity="0.9"/>
<path d="M0 69.3 L40 77 L62 85 L100 101 L146 116" stroke="#3a1f78" stroke-width="1.3" opacity="0.7"/>
<path d="M32 26 L60 33 L100 52 L146 70.5" stroke="#3a1f78" stroke-width="1.5" opacity="0.8"/>
<path d="M82 1.5 L110 24 L146 53.6" stroke="#3a1f78" stroke-width="1.6" opacity="0.7"/>
<path d="M47 0 L75 18 L110 38 L146 55" stroke="#3a1f78" stroke-width="1.2" opacity="0.5"/>
<path d="M60.4 85 L55 100 L48.2 114" stroke="#3a1f78" stroke-width="1.3" opacity="0.8"/>
<path d="M95 100 L100 115 L104 128" stroke="#3a1f78" stroke-width="1.2" opacity="0.6"/>
<path d="M128 64 L146 56" stroke="#3a1f78" stroke-width="1.6" opacity="0.8"/>
<path d="M128 122 L146 110" stroke="#3a1f78" stroke-width="1.6" opacity="0.7"/>
<path d="M0 36 L20 34 L45 38 L80 60" stroke="#3a1f78" stroke-width="1" opacity="0.4"/>
<path d="M0 112 L50 110 L100 118" stroke="#3a1f78" stroke-width="1" opacity="0.35"/>
<path d="M32 27 L50 30 L62 34" stroke="#e03a90" stroke-width="1.3" opacity="0.8" stroke-dasharray="1.2 2"/>
<path d="M36 76 L55 80 L64 82" stroke="#e03a90" stroke-width="1.2" opacity="0.7" stroke-dasharray="1.2 2.2"/>
<path d="M80 86 L95 95 L112 100" stroke="#e03a90" stroke-width="1.3" opacity="0.7" stroke-dasharray="1.2 2"/>
<path d="M104 58 L118 64" stroke="#e03a90" stroke-width="1.2" opacity="0.7" stroke-dasharray="1.2 2"/>
<path d="M126 98 L142 102" stroke="#e04050" stroke-width="1.2" opacity="0.7" stroke-dasharray="1 1.6"/>
<path d="M86 100 L92 112 L97 118" stroke="#e03a90" stroke-width="1.2" opacity="0.7" stroke-dasharray="1.2 2"/>
<path d="M128 64 L146 72" stroke="#e03a90" stroke-width="1.1" opacity="0.6" stroke-dasharray="1 2"/>
</g>
<g filter="url(#b3)" opacity="0.32">
<ellipse cx="37.3" cy="5.7" rx="10.69" ry="5.64" fill="#e23fb0"/>
<ellipse cx="22.5" cy="26.3" rx="12.34" ry="6.46" fill="#e23fb0" transform="rotate(-5 22.5 26.3)"/>
<ellipse cx="38" cy="25.5" rx="7.05" ry="1.76" fill="#e23fb0"/>
<ellipse cx="95.8" cy="39.6" rx="9.99" ry="6.34" fill="#e23fb0" transform="rotate(5 95.8 39.6)"/>
<ellipse cx="83.4" cy="49.9" rx="9.28" ry="5.29" fill="#e23fb0" transform="rotate(25 83.4 49.9)"/>
<ellipse cx="89.5" cy="56.6" rx="2.82" ry="2.58" fill="#4639c8"/>
<ellipse cx="121.6" cy="66.3" rx="7.05" ry="5.76" fill="#7450e0" transform="rotate(-10 121.6 66.3)"/>
<ellipse cx="130" cy="63" rx="4.11" ry="2" fill="#e23fb0" transform="rotate(-15 130 63)"/>
<ellipse cx="72.5" cy="79.6" rx="10.69" ry="6.34" fill="#e23fb0" transform="rotate(12 72.5 79.6)"/>
<ellipse cx="86" cy="85.5" rx="6.46" ry="1.41" fill="#e23fb0" transform="rotate(18 86 85.5)"/>
<ellipse cx="101.3" cy="88.1" rx="7.87" ry="5.64" fill="#e23fb0" transform="rotate(15 101.3 88.1)"/>
<ellipse cx="87.6" cy="96.2" rx="7.99" ry="5.05" fill="#e23fb0" transform="rotate(10 87.6 96.2)"/>
<ellipse cx="48.5" cy="118.4" rx="6.81" ry="7.17" fill="#e23fb0"/>
<ellipse cx="117.3" cy="121.5" rx="14.22" ry="6.34" fill="#e23fb0" transform="rotate(-8 117.3 121.5)"/>
<ellipse cx="123.4" cy="127.5" rx="7.87" ry="3.99" fill="#e23fb0" transform="rotate(-5 123.4 127.5)"/>
<ellipse cx="102.8" cy="131.8" rx="5.4" ry="4.93" fill="#a046dc"/>
<ellipse cx="100.3" cy="121" rx="2.11" ry="6.11" fill="#e23fb0" transform="rotate(-35 100.3 121)"/>
<ellipse cx="83.4" cy="1" rx="5.64" ry="1.76" fill="#e23fb0"/>
</g>
<g filter="url(#b1)">
<ellipse cx="37.3" cy="5.7" rx="8.55" ry="4.51" fill="#e23fb0"/>
<ellipse cx="22.5" cy="26.3" rx="9.87" ry="5.17" fill="#e23fb0" transform="rotate(-5 22.5 26.3)"/>
<ellipse cx="38" cy="25.5" rx="5.64" ry="1.41" fill="#e23fb0"/>
<ellipse cx="95.8" cy="39.6" rx="7.99" ry="5.08" fill="#e23fb0" transform="rotate(5 95.8 39.6)"/>
<ellipse cx="83.4" cy="49.9" rx="7.43" ry="4.23" fill="#e23fb0" transform="rotate(25 83.4 49.9)"/>
<ellipse cx="89.5" cy="56.6" rx="2.26" ry="2.07" fill="#4639c8"/>
<ellipse cx="121.6" cy="66.3" rx="5.64" ry="4.61" fill="#7450e0" transform="rotate(-10 121.6 66.3)"/>
<ellipse cx="130" cy="63" rx="3.29" ry="1.6" fill="#e23fb0" transform="rotate(-15 130 63)"/>
<ellipse cx="72.5" cy="79.6" rx="8.55" ry="5.08" fill="#e23fb0" transform="rotate(12 72.5 79.6)"/>
<ellipse cx="86" cy="85.5" rx="5.17" ry="1.13" fill="#e23fb0" transform="rotate(18 86 85.5)"/>
<ellipse cx="101.3" cy="88.1" rx="6.3" ry="4.51" fill="#e23fb0" transform="rotate(15 101.3 88.1)"/>
<ellipse cx="87.6" cy="96.2" rx="6.39" ry="4.04" fill="#e23fb0" transform="rotate(10 87.6 96.2)"/>
<ellipse cx="48.5" cy="118.4" rx="5.45" ry="5.73" fill="#e23fb0"/>
<ellipse cx="117.3" cy="121.5" rx="11.37" ry="5.08" fill="#e23fb0" transform="rotate(-8 117.3 121.5)"/>
<ellipse cx="123.4" cy="127.5" rx="6.3" ry="3.2" fill="#e23fb0" transform="rotate(-5 123.4 127.5)"/>
<ellipse cx="102.8" cy="131.8" rx="4.32" ry="3.95" fill="#a046dc"/>
<ellipse cx="100.3" cy="121" rx="1.69" ry="4.89" fill="#e23fb0" transform="rotate(-35 100.3 121)"/>
<ellipse cx="83.4" cy="1" rx="4.51" ry="1.41" fill="#e23fb0"/>
</g>
<g filter="url(#b2)">
<ellipse cx="40.3" cy="6" rx="6.24" ry="3.29" fill="#7450e0" opacity="0.95"/>
<ellipse cx="17.5" cy="27.1" rx="6.12" ry="3.21" fill="#7450e0" opacity="0.95" transform="rotate(-5 17.5 27.1)"/>

<ellipse cx="97.4" cy="40.7" rx="6.31" ry="4.01" fill="#7450e0" opacity="0.95" transform="rotate(5 97.4 40.7)"/>
<ellipse cx="84.6" cy="50.9" rx="6.16" ry="3.51" fill="#7450e0" opacity="0.95" transform="rotate(25 84.6 50.9)"/>

<ellipse cx="120.8" cy="66.8" rx="4.91" ry="4.01" fill="#4639c8" opacity="0.95" transform="rotate(-10 120.8 66.8)"/>

<ellipse cx="70.9" cy="78.6" rx="6.59" ry="3.91" fill="#7450e0" opacity="0.95" transform="rotate(12 70.9 78.6)"/>

<ellipse cx="102.3" cy="88.9" rx="4.98" ry="3.56" fill="#7450e0" opacity="0.95" transform="rotate(15 102.3 88.9)"/>
<ellipse cx="89.2" cy="96.4" rx="5.24" ry="3.31" fill="#4639c8" opacity="0.95" transform="rotate(10 89.2 96.4)"/>
<ellipse cx="49.2" cy="119.2" rx="4.53" ry="4.76" fill="#7450e0" opacity="0.95"/>
<ellipse cx="113.8" cy="120.9" rx="7.05" ry="3.15" fill="#7450e0" opacity="0.95" transform="rotate(-8 113.8 120.9)"/>
<ellipse cx="125.4" cy="127.5" rx="4.35" ry="2.21" fill="#7450e0" opacity="0.95" transform="rotate(-5 125.4 127.5)"/>
<ellipse cx="102.8" cy="132.1" rx="3.76" ry="3.43" fill="#4639c8" opacity="0.95"/>


</g>
<g filter="url(#b1)">


















</g>
<text x="3.7" y="5.6" font-size="5.2" fill="#62b4e6" textLength="31" lengthAdjust="spacingAndGlyphs" font-weight="bold">Calcein Blue</text>
<text x="4" y="13.2" font-size="5.2" fill="#e8341c" textLength="17" lengthAdjust="spacingAndGlyphs" font-weight="bold">TMRM</text>
<rect x="127" y="134.8" width="15" height="2" fill="#fff" />
</g></g>
<g transform="translate(267.1 905.7)">
<clipPath id="cp1"><rect x="0" y="0" width="146.2" height="140.2"/></clipPath>
<rect x="0" y="0" width="146.2" height="140.2" fill="#0a0609" />
<g clip-path="url(#cp1)">
<g filter="url(#b1)" fill="none" stroke-linecap="round" stroke-linejoin="round">
<path d="M0 59 L30 69 L62.8 81.5 L100 97 L146 114" stroke="#3a1f78" stroke-width="1.6" opacity="0.63"/>
<path d="M0 69.3 L40 77 L62 85 L100 101 L146 116" stroke="#3a1f78" stroke-width="1.3" opacity="0.49"/>
<path d="M32 26 L60 33 L100 52 L146 70.5" stroke="#3a1f78" stroke-width="1.5" opacity="0.56"/>
<path d="M82 1.5 L110 24 L146 53.6" stroke="#3a1f78" stroke-width="1.6" opacity="0.49"/>
<path d="M47 0 L75 18 L110 38 L146 55" stroke="#3a1f78" stroke-width="1.2" opacity="0.35"/>
<path d="M60.4 85 L55 100 L48.2 114" stroke="#3a1f78" stroke-width="1.3" opacity="0.56"/>
<path d="M95 100 L100 115 L104 128" stroke="#3a1f78" stroke-width="1.2" opacity="0.42"/>
<path d="M128 64 L146 56" stroke="#3a1f78" stroke-width="1.6" opacity="0.56"/>
<path d="M128 122 L146 110" stroke="#3a1f78" stroke-width="1.6" opacity="0.49"/>
<path d="M0 36 L20 34 L45 38 L80 60" stroke="#3a1f78" stroke-width="1" opacity="0.28"/>
<path d="M0 112 L50 110 L100 118" stroke="#3a1f78" stroke-width="1" opacity="0.24"/>
<path d="M32 27 L50 30 L62 34" stroke="#e03a90" stroke-width="1.3" opacity="0.32" stroke-dasharray="1.2 2"/>
<path d="M36 76 L55 80 L64 82" stroke="#e03a90" stroke-width="1.2" opacity="0.28" stroke-dasharray="1.2 2.2"/>
<path d="M80 86 L95 95 L112 100" stroke="#e03a90" stroke-width="1.3" opacity="0.28" stroke-dasharray="1.2 2"/>
<path d="M104 58 L118 64" stroke="#e03a90" stroke-width="1.2" opacity="0.28" stroke-dasharray="1.2 2"/>
<path d="M126 98 L142 102" stroke="#e04050" stroke-width="1.2" opacity="0.28" stroke-dasharray="1 1.6"/>
<path d="M86 100 L92 112 L97 118" stroke="#e03a90" stroke-width="1.2" opacity="0.28" stroke-dasharray="1.2 2"/>
<path d="M128 64 L146 72" stroke="#e03a90" stroke-width="1.1" opacity="0.24" stroke-dasharray="1 2"/>
</g>
<g filter="url(#b3)" opacity="0.32">
<ellipse cx="37.3" cy="4" rx="10.69" ry="4.93" fill="#e23fb0" transform="rotate(5 37.3 4)"/>
<ellipse cx="23.4" cy="24" rx="12.1" ry="6.34" fill="#e23fb0" transform="rotate(-5 23.4 24)"/>
<ellipse cx="96.1" cy="37" rx="9.63" ry="5.99" fill="#e23fb0" transform="rotate(5 96.1 37)"/>
<ellipse cx="83.8" cy="47.6" rx="8.81" ry="4.93" fill="#e23fb0" transform="rotate(25 83.8 47.6)"/>
<ellipse cx="90.5" cy="54.3" rx="2.58" ry="2.35" fill="#352c9c"/>
<ellipse cx="121.6" cy="64.4" rx="6.58" ry="5.76" fill="#7450e0" transform="rotate(-10 121.6 64.4)"/>
<ellipse cx="129" cy="62" rx="3.52" ry="1.88" fill="#a046dc" opacity="0.6" transform="rotate(-15 129 62)"/>
<ellipse cx="73.7" cy="77.9" rx="11.04" ry="6.11" fill="#e23fb0" transform="rotate(12 73.7 77.9)"/>
<ellipse cx="101.6" cy="87" rx="7.87" ry="5.64" fill="#e23fb0" transform="rotate(15 101.6 87)"/>
<ellipse cx="87.6" cy="94.7" rx="7.75" ry="5.29" fill="#e23fb0" transform="rotate(10 87.6 94.7)"/>
<ellipse cx="48.8" cy="117.3" rx="6.81" ry="6.81" fill="#e23fb0"/>
<ellipse cx="118.5" cy="119.2" rx="12.1" ry="5.76" fill="#e23fb0" transform="rotate(-8 118.5 119.2)"/>
<ellipse cx="123.4" cy="126.4" rx="7.87" ry="3.99" fill="#f0307a" transform="rotate(-5 123.4 126.4)"/>
<ellipse cx="104" cy="130.7" rx="5.87" ry="4.93" fill="#e23fb0"/>
<ellipse cx="99.2" cy="119.2" rx="2.35" ry="4.93" fill="#e23fb0" transform="rotate(-25 99.2 119.2)"/>
</g>
<g filter="url(#b1)">
<ellipse cx="37.3" cy="4" rx="8.55" ry="3.95" fill="#e23fb0" transform="rotate(5 37.3 4)"/>
<ellipse cx="23.4" cy="24" rx="9.68" ry="5.08" fill="#e23fb0" transform="rotate(-5 23.4 24)"/>
<ellipse cx="96.1" cy="37" rx="7.71" ry="4.79" fill="#e23fb0" transform="rotate(5 96.1 37)"/>
<ellipse cx="83.8" cy="47.6" rx="7.05" ry="3.95" fill="#e23fb0" transform="rotate(25 83.8 47.6)"/>
<ellipse cx="90.5" cy="54.3" rx="2.07" ry="1.88" fill="#352c9c"/>
<ellipse cx="121.6" cy="64.4" rx="5.26" ry="4.61" fill="#7450e0" transform="rotate(-10 121.6 64.4)"/>
<ellipse cx="129" cy="62" rx="2.82" ry="1.5" fill="#a046dc" opacity="0.6" transform="rotate(-15 129 62)"/>
<ellipse cx="73.7" cy="77.9" rx="8.84" ry="4.89" fill="#e23fb0" transform="rotate(12 73.7 77.9)"/>
<ellipse cx="101.6" cy="87" rx="6.3" ry="4.51" fill="#e23fb0" transform="rotate(15 101.6 87)"/>
<ellipse cx="87.6" cy="94.7" rx="6.2" ry="4.23" fill="#e23fb0" transform="rotate(10 87.6 94.7)"/>
<ellipse cx="48.8" cy="117.3" rx="5.45" ry="5.45" fill="#e23fb0"/>
<ellipse cx="118.5" cy="119.2" rx="9.68" ry="4.61" fill="#e23fb0" transform="rotate(-8 118.5 119.2)"/>
<ellipse cx="123.4" cy="126.4" rx="6.3" ry="3.2" fill="#f0307a" transform="rotate(-5 123.4 126.4)"/>
<ellipse cx="104" cy="130.7" rx="4.7" ry="3.95" fill="#e23fb0"/>
<ellipse cx="99.2" cy="119.2" rx="1.88" ry="3.95" fill="#e23fb0" transform="rotate(-25 99.2 119.2)"/>
</g>
<g filter="url(#b2)">
<ellipse cx="40.3" cy="4.5" rx="5.73" ry="2.65" fill="#7450e0" opacity="0.95" transform="rotate(5 40.3 4.5)"/>
<ellipse cx="19.4" cy="25" rx="6.29" ry="3.3" fill="#7450e0" opacity="0.95" transform="rotate(-5 19.4 25)"/>
<ellipse cx="97.6" cy="38" rx="5.78" ry="3.6" fill="#7450e0" opacity="0.95" transform="rotate(5 97.6 38)"/>
<ellipse cx="85" cy="48.6" rx="5.71" ry="3.2" fill="#7450e0" opacity="0.95" transform="rotate(25 85 48.6)"/>

<ellipse cx="121.1" cy="64.7" rx="4.74" ry="4.15" fill="#4639c8" opacity="0.95" transform="rotate(-10 121.1 64.7)"/>

<ellipse cx="72.2" cy="77.3" rx="6.8" ry="3.76" fill="#7450e0" opacity="0.95" transform="rotate(12 72.2 77.3)"/>
<ellipse cx="102.4" cy="87.6" rx="4.98" ry="3.56" fill="#7450e0" opacity="0.95" transform="rotate(15 102.4 87.6)"/>
<ellipse cx="88.4" cy="95" rx="5.03" ry="3.43" fill="#4639c8" opacity="0.95" transform="rotate(10 88.4 95)"/>
<ellipse cx="49.3" cy="118.2" rx="4.53" ry="4.53" fill="#7450e0" opacity="0.95"/>
<ellipse cx="116.5" cy="118.7" rx="6.49" ry="3.09" fill="#7450e0" opacity="0.95" transform="rotate(-8 116.5 118.7)"/>
<ellipse cx="125.2" cy="126.4" rx="3.9" ry="1.98" fill="#7450e0" opacity="0.95" transform="rotate(-5 125.2 126.4)"/>
<ellipse cx="104.5" cy="131.1" rx="3.9" ry="3.28" fill="#4639c8" opacity="0.95"/>

</g>
<g filter="url(#b1)">















</g>
<rect x="128" y="134.8" width="15" height="2" fill="#fff" />
</g></g>
<g transform="translate(426.3 905.7)">
<clipPath id="cp2"><rect x="0" y="0" width="145" height="141"/></clipPath>
<rect x="0" y="0" width="145" height="141" fill="#0a0609" />
<g clip-path="url(#cp2)">
<g filter="url(#b1)" fill="none" stroke-linecap="round" stroke-linejoin="round">
<path d="M0 59 L30 69 L62.8 81.5 L100 97 L146 114" stroke="#3a1f78" stroke-width="1.6" opacity="0.32"/>
<path d="M0 69.3 L40 77 L62 85 L100 101 L146 116" stroke="#3a1f78" stroke-width="1.3" opacity="0.24"/>
<path d="M32 26 L60 33 L100 52 L146 70.5" stroke="#3a1f78" stroke-width="1.5" opacity="0.28"/>
<path d="M82 1.5 L110 24 L146 53.6" stroke="#3a1f78" stroke-width="1.6" opacity="0.24"/>
<path d="M47 0 L75 18 L110 38 L146 55" stroke="#3a1f78" stroke-width="1.2" opacity="0.17"/>
<path d="M60.4 85 L55 100 L48.2 114" stroke="#3a1f78" stroke-width="1.3" opacity="0.28"/>
<path d="M95 100 L100 115 L104 128" stroke="#3a1f78" stroke-width="1.2" opacity="0.21"/>
<path d="M128 64 L146 56" stroke="#3a1f78" stroke-width="1.6" opacity="0.28"/>
<path d="M128 122 L146 110" stroke="#3a1f78" stroke-width="1.6" opacity="0.24"/>
<path d="M0 36 L20 34 L45 38 L80 60" stroke="#3a1f78" stroke-width="1" opacity="0.14"/>
<path d="M0 112 L50 110 L100 118" stroke="#3a1f78" stroke-width="1" opacity="0.12"/>
</g>
<g filter="url(#b3)" opacity="0.32">
<ellipse cx="37.3" cy="3.4" rx="7.87" ry="4.23" fill="#a046dc" opacity="0.8" transform="rotate(5 37.3 3.4)"/>
<ellipse cx="22.8" cy="23.2" rx="10.69" ry="5.64" fill="#e23fb0" transform="rotate(-5 22.8 23.2)"/>
<ellipse cx="96.1" cy="35.5" rx="9.16" ry="5.87" fill="#352c9c" transform="rotate(5 96.1 35.5)"/>
<ellipse cx="84" cy="46.7" rx="7.87" ry="4.46" fill="#7450e0" transform="rotate(25 84 46.7)"/>
<ellipse cx="121.6" cy="62.8" rx="5.99" ry="5.4" fill="#7450e0" transform="rotate(-10 121.6 62.8)"/>
<ellipse cx="73.7" cy="77.3" rx="9.28" ry="5.64" fill="#e23fb0" transform="rotate(10 73.7 77.3)"/>
<ellipse cx="101.6" cy="85.8" rx="7.05" ry="5.4" fill="#a046dc" transform="rotate(15 101.6 85.8)"/>
<ellipse cx="87" cy="92.7" rx="7.05" ry="4.58" fill="#352c9c" transform="rotate(10 87 92.7)"/>
<ellipse cx="48.5" cy="116.1" rx="6.34" ry="5.99" fill="#7450e0"/>
<ellipse cx="117.3" cy="117.9" rx="9.99" ry="4.58" fill="#352c9c" opacity="0.9" transform="rotate(-8 117.3 117.9)"/>
<ellipse cx="122.8" cy="125.2" rx="7.05" ry="3.17" fill="#a046dc" transform="rotate(-5 122.8 125.2)"/>
<ellipse cx="104" cy="130" rx="5.64" ry="4.23" fill="#a046dc"/>
</g>
<g filter="url(#b1)">
<ellipse cx="37.3" cy="3.4" rx="6.3" ry="3.38" fill="#a046dc" opacity="0.8" transform="rotate(5 37.3 3.4)"/>
<ellipse cx="22.8" cy="23.2" rx="8.55" ry="4.51" fill="#e23fb0" transform="rotate(-5 22.8 23.2)"/>
<ellipse cx="96.1" cy="35.5" rx="7.33" ry="4.7" fill="#352c9c" transform="rotate(5 96.1 35.5)"/>
<ellipse cx="84" cy="46.7" rx="6.3" ry="3.57" fill="#7450e0" transform="rotate(25 84 46.7)"/>
<ellipse cx="121.6" cy="62.8" rx="4.79" ry="4.32" fill="#7450e0" transform="rotate(-10 121.6 62.8)"/>
<ellipse cx="73.7" cy="77.3" rx="7.43" ry="4.51" fill="#e23fb0" transform="rotate(10 73.7 77.3)"/>
<ellipse cx="101.6" cy="85.8" rx="5.64" ry="4.32" fill="#a046dc" transform="rotate(15 101.6 85.8)"/>
<ellipse cx="87" cy="92.7" rx="5.64" ry="3.67" fill="#352c9c" transform="rotate(10 87 92.7)"/>
<ellipse cx="48.5" cy="116.1" rx="5.08" ry="4.79" fill="#7450e0"/>
<ellipse cx="117.3" cy="117.9" rx="7.99" ry="3.67" fill="#352c9c" opacity="0.9" transform="rotate(-8 117.3 117.9)"/>
<ellipse cx="122.8" cy="125.2" rx="5.64" ry="2.54" fill="#a046dc" transform="rotate(-5 122.8 125.2)"/>
<ellipse cx="104" cy="130" rx="4.51" ry="3.38" fill="#a046dc"/>
</g>
<g filter="url(#b2)">

<ellipse cx="23.1" cy="24" rx="7.19" ry="3.79" fill="#7450e0" opacity="0.95" transform="rotate(-5 23.1 24)"/>


<ellipse cx="121.1" cy="63.1" rx="4.07" ry="3.68" fill="#4639c8" opacity="0.95" transform="rotate(-10 121.1 63.1)"/>
<ellipse cx="74" cy="77.5" rx="6.09" ry="3.7" fill="#7450e0" opacity="0.95" transform="rotate(10 74 77.5)"/>
<ellipse cx="102.4" cy="85.5" rx="4.79" ry="3.68" fill="#4639c8" opacity="0.95" transform="rotate(15 102.4 85.5)"/>
<ellipse cx="87.5" cy="92.7" rx="3.38" ry="2.2" fill="#7450e0" opacity="0.95" transform="rotate(10 87.5 92.7)"/>
<ellipse cx="48.8" cy="116.6" rx="4.47" ry="4.22" fill="#4639c8" opacity="0.95"/>


<ellipse cx="104.3" cy="129.5" rx="3.61" ry="2.71" fill="#7450e0" opacity="0.95"/>
</g>
<g filter="url(#b1)">
<ellipse cx="37.8" cy="3.4" rx="2.86" ry="2.09" fill="#f0307a" opacity="0.95" transform="rotate(5 37.8 3.4)"/>
<ellipse cx="18.3" cy="22" rx="2.6" ry="1.9" fill="#f0307a" opacity="0.95" transform="rotate(-5 18.3 22)"/><ellipse cx="25.8" cy="21" rx="2.86" ry="2.09" fill="#f0307a" opacity="0.95" transform="rotate(-5 25.8 21)"/>
<ellipse cx="96.6" cy="35" rx="2.86" ry="2.09" fill="#f0307a" opacity="0.95" transform="rotate(5 96.6 35)"/>
<ellipse cx="82" cy="45.9" rx="3.38" ry="2.47" fill="#f0307a" opacity="0.95" transform="rotate(25 82 45.9)"/>
<ellipse cx="124.8" cy="63" rx="1.69" ry="1.23" fill="#f0307a" opacity="0.95" transform="rotate(-10 124.8 63)"/>
<ellipse cx="77.2" cy="78.8" rx="2.34" ry="1.71" fill="#f0307a" opacity="0.95" transform="rotate(10 77.2 78.8)"/>
<ellipse cx="98.6" cy="86.8" rx="2.34" ry="1.71" fill="#f0307a" opacity="0.95" transform="rotate(15 98.6 86.8)"/><ellipse cx="100.6" cy="88.8" rx="2.08" ry="1.52" fill="#f0307a" opacity="0.95" transform="rotate(15 100.6 88.8)"/>
<ellipse cx="89.5" cy="93.2" rx="1.56" ry="1.14" fill="#f0307a" opacity="0.95" transform="rotate(10 89.5 93.2)"/>
<ellipse cx="46" cy="112.6" rx="1.69" ry="1.23" fill="#f0307a" opacity="0.95"/>
<ellipse cx="114.8" cy="118.7" rx="3.12" ry="2.28" fill="#f0307a" opacity="0.95" transform="rotate(-8 114.8 118.7)"/>
<ellipse cx="122.3" cy="125.2" rx="3.38" ry="2.47" fill="#f0307a" opacity="0.95" transform="rotate(-5 122.3 125.2)"/>
<ellipse cx="103.5" cy="131.8" rx="2.34" ry="1.71" fill="#f0307a" opacity="0.95"/>
</g>
<rect x="126.8" y="136" width="15" height="2" fill="#fff" />
</g></g>
<g transform="translate(586 907)">
<clipPath id="cp3"><rect x="0" y="0" width="146.2" height="140.6"/></clipPath>
<rect x="0" y="0" width="146.2" height="140.6" fill="#0a0609" />
<g clip-path="url(#cp3)">
<g filter="url(#b1)" fill="none" stroke-linecap="round" stroke-linejoin="round">
<path d="M0 59 L30 69 L62.8 81.5 L100 97 L146 114" stroke="#3a1f78" stroke-width="1.6" opacity="0.45"/>
<path d="M0 69.3 L40 77 L62 85 L100 101 L146 116" stroke="#3a1f78" stroke-width="1.3" opacity="0.35"/>
<path d="M32 26 L60 33 L100 52 L146 70.5" stroke="#3a1f78" stroke-width="1.5" opacity="0.4"/>
<path d="M82 1.5 L110 24 L146 53.6" stroke="#3a1f78" stroke-width="1.6" opacity="0.35"/>
<path d="M47 0 L75 18 L110 38 L146 55" stroke="#3a1f78" stroke-width="1.2" opacity="0.25"/>
<path d="M60.4 85 L55 100 L48.2 114" stroke="#3a1f78" stroke-width="1.3" opacity="0.4"/>
<path d="M95 100 L100 115 L104 128" stroke="#3a1f78" stroke-width="1.2" opacity="0.3"/>
<path d="M128 64 L146 56" stroke="#3a1f78" stroke-width="1.6" opacity="0.4"/>
<path d="M128 122 L146 110" stroke="#3a1f78" stroke-width="1.6" opacity="0.35"/>
<path d="M0 36 L20 34 L45 38 L80 60" stroke="#3a1f78" stroke-width="1" opacity="0.2"/>
<path d="M0 112 L50 110 L100 118" stroke="#3a1f78" stroke-width="1" opacity="0.17"/>
</g>
<g filter="url(#b3)" opacity="0.32">
<ellipse cx="40.6" cy="3.3" rx="9.28" ry="3.99" fill="#4639c8"/>
<ellipse cx="24.8" cy="22" rx="12.1" ry="5.99" fill="#4639c8" transform="rotate(-8 24.8 22)"/>
<ellipse cx="99.2" cy="35.2" rx="9.63" ry="5.99" fill="#4639c8" transform="rotate(8 99.2 35.2)"/>
<ellipse cx="86" cy="45.7" rx="8.58" ry="4.58" fill="#4639c8" transform="rotate(25 86 45.7)"/>
<ellipse cx="92" cy="53" rx="2.58" ry="2.35" fill="#352c9c" opacity="0.7"/>
<ellipse cx="124.6" cy="61.5" rx="6.34" ry="5.4" fill="#4639c8" transform="rotate(-10 124.6 61.5)"/>
<ellipse cx="76.4" cy="76" rx="11.4" ry="5.64" fill="#4639c8" transform="rotate(10 76.4 76)"/>
<ellipse cx="103.6" cy="83.9" rx="7.4" ry="5.4" fill="#4639c8" transform="rotate(15 103.6 83.9)"/>
<ellipse cx="89.7" cy="91.8" rx="7.4" ry="4.93" fill="#4639c8" transform="rotate(10 89.7 91.8)"/>
<ellipse cx="51.2" cy="114" rx="6.34" ry="6.23" fill="#4639c8"/>
<ellipse cx="120.6" cy="116" rx="13.51" ry="5.64" fill="#4639c8" opacity="0.92" transform="rotate(-6 120.6 116)"/>
<ellipse cx="125.5" cy="123" rx="7.4" ry="3.52" fill="#f0307a" transform="rotate(-5 125.5 123)"/>
<ellipse cx="106.7" cy="127.3" rx="5.99" ry="4.58" fill="#4639c8"/>
<ellipse cx="101" cy="116" rx="1.88" ry="4.7" fill="#352c9c" opacity="0.8" transform="rotate(-20 101 116)"/>
</g>
<g filter="url(#b1)">
<ellipse cx="40.6" cy="3.3" rx="7.43" ry="3.2" fill="#4639c8"/>
<ellipse cx="24.8" cy="22" rx="9.68" ry="4.79" fill="#4639c8" transform="rotate(-8 24.8 22)"/>
<ellipse cx="99.2" cy="35.2" rx="7.71" ry="4.79" fill="#4639c8" transform="rotate(8 99.2 35.2)"/>
<ellipse cx="86" cy="45.7" rx="6.86" ry="3.67" fill="#4639c8" transform="rotate(25 86 45.7)"/>
<ellipse cx="92" cy="53" rx="2.07" ry="1.88" fill="#352c9c" opacity="0.7"/>
<ellipse cx="124.6" cy="61.5" rx="5.08" ry="4.32" fill="#4639c8" transform="rotate(-10 124.6 61.5)"/>
<ellipse cx="76.4" cy="76" rx="9.12" ry="4.51" fill="#4639c8" transform="rotate(10 76.4 76)"/>
<ellipse cx="103.6" cy="83.9" rx="5.92" ry="4.32" fill="#4639c8" transform="rotate(15 103.6 83.9)"/>
<ellipse cx="89.7" cy="91.8" rx="5.92" ry="3.95" fill="#4639c8" transform="rotate(10 89.7 91.8)"/>
<ellipse cx="51.2" cy="114" rx="5.08" ry="4.98" fill="#4639c8"/>
<ellipse cx="120.6" cy="116" rx="10.81" ry="4.51" fill="#4639c8" opacity="0.92" transform="rotate(-6 120.6 116)"/>
<ellipse cx="125.5" cy="123" rx="5.92" ry="2.82" fill="#f0307a" transform="rotate(-5 125.5 123)"/>
<ellipse cx="106.7" cy="127.3" rx="4.79" ry="3.67" fill="#4639c8"/>
<ellipse cx="101" cy="116" rx="1.5" ry="3.76" fill="#352c9c" opacity="0.8" transform="rotate(-20 101 116)"/>
</g>
<g filter="url(#b2)">











<ellipse cx="128.5" cy="123.5" rx="2.96" ry="1.41" fill="#4639c8" opacity="0.95" transform="rotate(-5 128.5 123.5)"/>


</g>
<g filter="url(#b1)">

<ellipse cx="27.8" cy="20" rx="3.9" ry="2.85" fill="#f0307a" opacity="0.95" transform="rotate(-8 27.8 20)"/><ellipse cx="31.8" cy="21.5" rx="2.6" ry="1.9" fill="#f0307a" opacity="0.95" transform="rotate(-8 31.8 21.5)"/>

<ellipse cx="85.5" cy="43.5" rx="3.64" ry="2.66" fill="#f0307a" opacity="0.95" transform="rotate(25 85.5 43.5)"/>

<ellipse cx="127.1" cy="61" rx="2.6" ry="1.9" fill="#f0307a" opacity="0.95" transform="rotate(-10 127.1 61)"/>
<ellipse cx="81.9" cy="76.5" rx="3.12" ry="2.28" fill="#f0307a" opacity="0.95" transform="rotate(10 81.9 76.5)"/>
<ellipse cx="100.3" cy="83.1" rx="2.86" ry="2.09" fill="#f0307a" opacity="0.95" transform="rotate(15 100.3 83.1)"/>
<ellipse cx="87.2" cy="90.8" rx="3.38" ry="2.47" fill="#f0307a" opacity="0.95" transform="rotate(10 87.2 90.8)"/><ellipse cx="90.7" cy="93.3" rx="2.08" ry="1.52" fill="#f0307a" opacity="0.95" transform="rotate(10 90.7 93.3)"/>
<ellipse cx="50" cy="110.2" rx="1.56" ry="1.14" fill="#f0307a" opacity="0.95"/>


<ellipse cx="103.2" cy="125.1" rx="1.69" ry="1.23" fill="#f0307a" opacity="0.95"/>

</g>
<rect x="127.9" y="133.6" width="15" height="2" fill="#fff" />
</g></g>
<g transform="translate(110.1 1063.2)">
<clipPath id="cp10"><rect x="0" y="0" width="146.1" height="139.1"/></clipPath>
<rect x="0" y="0" width="146.1" height="139.1" fill="#0a0609" />
<g clip-path="url(#cp10)">
<ellipse cx="55" cy="95" rx="70" ry="45" fill="url(#hzM)" opacity="0.4"/>
<ellipse cx="112" cy="100" rx="50" ry="40" fill="url(#hzM)" opacity="0.3"/>
<ellipse cx="60" cy="30" rx="70" ry="35" fill="url(#hzP)" opacity="0.3"/>
<g filter="url(#b1)" fill="none" stroke-linecap="round" stroke-linejoin="round">
<path d="M56 88 L85 86.5 L110 84.5 L146 82.5" stroke="#a050d0" stroke-width="2.8" opacity="0.95"/>
<path d="M0 70.5 L25 82 L48 92.4" stroke="#7a30a0" stroke-width="1.4" opacity="0.8"/>
<path d="M48 100.8 L40 115 L30 131" stroke="#c02a90" stroke-width="2" opacity="0.9"/>
<path d="M91.9 113 L100 124 L108.8 134.8 L110 140" stroke="#c02a90" stroke-width="1.9" opacity="0.85"/>
<path d="M108.8 125 L128 116 L146 107" stroke="#7a30a0" stroke-width="1.4" opacity="0.8"/>
<path d="M76 92 L92 112" stroke="#7a30a0" stroke-width="1.3" opacity="0.7"/>
<path d="M47 25 L50 50 L51 76" stroke="#2a1858" stroke-width="1.3" opacity="0.8"/>
<path d="M0 14 L40 10 L80 22 L146 20" stroke="#2a1858" stroke-width="1.2" opacity="0.5"/>
<path d="M90 46 L80 58 L60 80" stroke="#2a1858" stroke-width="1.2" opacity="0.6"/>
<path d="M60 104 L78 122 L88 140" stroke="#7a30a0" stroke-width="1.2" opacity="0.6"/>
<path d="M100 0 L110 40 L122 80" stroke="#2a1858" stroke-width="1.2" opacity="0.6"/>
<path d="M146 40 L125 60 L100 84" stroke="#2a1858" stroke-width="1.1" opacity="0.5"/>
<path d="M20 100 L45 96" stroke="#b02378" stroke-width="1.2" opacity="0.6"/>
<path d="M128 30 L131 50" stroke="#b02378" stroke-width="1" opacity="0.5"/>
<path d="M40 62 L52 78" stroke="#b02378" stroke-width="1.2" opacity="0.6"/>
<path d="M0 90 L22 118 L30 139" stroke="#2a1858" stroke-width="1.1" opacity="0.5"/>
<path d="M60 0 L72 30 L96 60 L146 92" stroke="#2a1858" stroke-width="1" opacity="0.45"/>
<path d="M0 132 L8 128" stroke="#4038c0" stroke-width="2.2" opacity="0.8"/>
<path d="M56 88 L85 86.5 L110 84.5 L140 82.8" stroke="#e03aa0" stroke-width="2.2" opacity="0.8" stroke-dasharray="1.2 2.6"/>
<path d="M48 100.8 L40 115 L30 131" stroke="#f040a0" stroke-width="1.6" opacity="0.9" stroke-dasharray="1.5 2"/>
<path d="M91.9 113 L100 124 L108.8 134.8" stroke="#f040a0" stroke-width="1.6" opacity="0.9" stroke-dasharray="1.5 2"/>
<path d="M20 72 L36 84 L46 92" stroke="#e03aa0" stroke-width="1.4" opacity="0.8" stroke-dasharray="1.2 2.2"/>
<path d="M55 102 L68 118 L80 138" stroke="#d03098" stroke-width="1.3" opacity="0.7" stroke-dasharray="1.2 2.5"/>
<path d="M108.8 125 L128 116 L146 107" stroke="#e03aa0" stroke-width="1.3" opacity="0.7" stroke-dasharray="1.2 2.5"/>
<path d="M30 95 L44 97" stroke="#f040a0" stroke-width="1.6" opacity="0.8" stroke-dasharray="1.2 1.8"/>
<path d="M108 48 L114 52 L112 58" stroke="#e04030" stroke-width="1.2" opacity="0.7" stroke-dasharray="1 1.5"/>
<path d="M136 52 L142 56 L146 52" stroke="#e04030" stroke-width="1.1" opacity="0.6" stroke-dasharray="1 1.5"/>
<path d="M128 26 L131 50" stroke="#e03a70" stroke-width="1.2" opacity="0.7" stroke-dasharray="1 2"/>
<path d="M36 60 L44 70" stroke="#f04050" stroke-width="1.3" opacity="0.8" stroke-dasharray="1.2 1.5"/>
<path d="M95 100 L90 112" stroke="#e03aa0" stroke-width="1.3" opacity="0.7" stroke-dasharray="1.2 2"/>
<path d="M60 20 L100 30 L146 36" stroke="#2a1858" stroke-width="1.1" opacity="0.5"/>
<path d="M93 47 L96 88" stroke="#2a1858" stroke-width="1.1" opacity="0.55"/>
</g>
<g filter="url(#b3)" opacity="0.32">
<ellipse cx="33.7" cy="17.8" rx="7.05" ry="6.58" fill="#a046dc"/>
<ellipse cx="47" cy="19.6" rx="5.64" ry="7.87" fill="#a046dc" transform="rotate(-10 47 19.6)"/>
<ellipse cx="41" cy="25" rx="3.52" ry="3.52" fill="#4639c8" opacity="0.9"/>
<ellipse cx="84" cy="28" rx="3.05" ry="4.46" fill="#352c9c" opacity="0.8" transform="rotate(15 84 28)"/>
<ellipse cx="90.7" cy="40.8" rx="7.4" ry="7.17" fill="#a046dc" transform="rotate(-30 90.7 40.8)"/>
<ellipse cx="13.7" cy="59" rx="4.93" ry="4.58" fill="#4639c8"/>
<ellipse cx="68.8" cy="64.5" rx="7.28" ry="5.17" fill="#a046dc" transform="rotate(30 68.8 64.5)"/>
<ellipse cx="47.5" cy="94" rx="9.4" ry="11.16" fill="#a046dc" opacity="0.6" transform="rotate(15 47.5 94)"/>
<ellipse cx="51.3" cy="83.3" rx="7.05" ry="7.87" fill="#a046dc" transform="rotate(-10 51.3 83.3)"/>
<ellipse cx="53" cy="100.8" rx="7.05" ry="6.11" fill="#a046dc" transform="rotate(-30 53 100.8)"/>
<ellipse cx="125.8" cy="85" rx="9.4" ry="5.87" fill="#b04ad0" transform="rotate(-20 125.8 85)"/>
<ellipse cx="95.3" cy="94.2" rx="5.99" ry="7.87" fill="#a046dc" transform="rotate(-10 95.3 94.2)"/>
<ellipse cx="74.3" cy="111.2" rx="5.64" ry="6.81" fill="#a046dc" transform="rotate(10 74.3 111.2)"/>
<ellipse cx="44" cy="132.4" rx="4.93" ry="3.99" fill="#352c9c" opacity="0.85"/>
<ellipse cx="124.6" cy="115.4" rx="2.35" ry="2.35" fill="#f0307a"/>
<ellipse cx="2" cy="134" rx="4.7" ry="1.88" fill="#4639c8" opacity="0.8" transform="rotate(-35 2 134)"/>
</g>
<g filter="url(#b1)">
<ellipse cx="33.7" cy="17.8" rx="5.64" ry="5.26" fill="#a046dc"/>
<ellipse cx="47" cy="19.6" rx="4.51" ry="6.3" fill="#a046dc" transform="rotate(-10 47 19.6)"/>
<ellipse cx="41" cy="25" rx="2.82" ry="2.82" fill="#4639c8" opacity="0.9"/>
<ellipse cx="84" cy="28" rx="2.44" ry="3.57" fill="#352c9c" opacity="0.8" transform="rotate(15 84 28)"/>
<ellipse cx="90.7" cy="40.8" rx="5.92" ry="5.73" fill="#a046dc" transform="rotate(-30 90.7 40.8)"/>
<ellipse cx="13.7" cy="59" rx="3.95" ry="3.67" fill="#4639c8"/>
<ellipse cx="68.8" cy="64.5" rx="5.83" ry="4.14" fill="#a046dc" transform="rotate(30 68.8 64.5)"/>
<ellipse cx="47.5" cy="94" rx="7.52" ry="8.93" fill="#a046dc" opacity="0.6" transform="rotate(15 47.5 94)"/>
<ellipse cx="51.3" cy="83.3" rx="5.64" ry="6.3" fill="#a046dc" transform="rotate(-10 51.3 83.3)"/>
<ellipse cx="53" cy="100.8" rx="5.64" ry="4.89" fill="#a046dc" transform="rotate(-30 53 100.8)"/>
<ellipse cx="125.8" cy="85" rx="7.52" ry="4.7" fill="#b04ad0" transform="rotate(-20 125.8 85)"/>
<ellipse cx="95.3" cy="94.2" rx="4.79" ry="6.3" fill="#a046dc" transform="rotate(-10 95.3 94.2)"/>
<ellipse cx="74.3" cy="111.2" rx="4.51" ry="5.45" fill="#a046dc" transform="rotate(10 74.3 111.2)"/>
<ellipse cx="44" cy="132.4" rx="3.95" ry="3.2" fill="#352c9c" opacity="0.85"/>
<ellipse cx="124.6" cy="115.4" rx="1.88" ry="1.88" fill="#f0307a"/>
<ellipse cx="2" cy="134" rx="3.76" ry="1.5" fill="#4639c8" opacity="0.8" transform="rotate(-35 2 134)"/>
</g>
<g filter="url(#b2)">
<ellipse cx="34.5" cy="18" rx="5.08" ry="4.74" fill="#4639c8" opacity="0.95"/>
<ellipse cx="46.7" cy="19.3" rx="4.06" ry="5.67" fill="#4639c8" opacity="0.95" transform="rotate(-10 46.7 19.3)"/>

<ellipse cx="84" cy="28.8" rx="1.22" ry="1.79" fill="#e23fb0" opacity="0.95" transform="rotate(15 84 28.8)"/>
<ellipse cx="89.9" cy="39.8" rx="5.33" ry="5.16" fill="#4639c8" opacity="0.95" transform="rotate(-30 89.9 39.8)"/>

<ellipse cx="70.2" cy="65.9" rx="3.61" ry="2.56" fill="#4639c8" opacity="0.95" transform="rotate(30 70.2 65.9)"/>

<ellipse cx="51.3" cy="83" rx="5.08" ry="5.67" fill="#4639c8" opacity="0.95" transform="rotate(-10 51.3 83)"/>
<ellipse cx="54" cy="101.1" rx="4.51" ry="3.91" fill="#7450e0" opacity="0.95" transform="rotate(-30 54 101.1)"/>
<ellipse cx="125.8" cy="85" rx="5.26" ry="3.29" fill="#a046dc" opacity="0.95" transform="rotate(-20 125.8 85)"/>
<ellipse cx="94.8" cy="93.8" rx="4.41" ry="5.79" fill="#4639c8" opacity="0.95" transform="rotate(-10 94.8 93.8)"/>
<ellipse cx="74.3" cy="110.8" rx="4.06" ry="4.91" fill="#4639c8" opacity="0.95" transform="rotate(10 74.3 110.8)"/>



</g>
<g filter="url(#b1)">
<ellipse cx="29.7" cy="16.3" rx="3.12" ry="2.28" fill="#e23fb0" opacity="0.95"/><ellipse cx="31.7" cy="13.3" rx="2.34" ry="1.71" fill="#e23fb0" opacity="0.95"/>



<ellipse cx="92.2" cy="45" rx="4.16" ry="3.04" fill="#e23fb0" opacity="0.95" transform="rotate(-30 92.2 45)"/><ellipse cx="88.2" cy="45.6" rx="2.6" ry="1.9" fill="#e23fb0" opacity="0.95" transform="rotate(-30 88.2 45.6)"/>
<ellipse cx="16.7" cy="62" rx="1.3" ry="0.95" fill="#f0307a" opacity="0.95"/>
<ellipse cx="66.3" cy="63" rx="2.6" ry="1.9" fill="#e23fb0" opacity="0.95" transform="rotate(30 66.3 63)"/>
<ellipse cx="43.5" cy="98" rx="2.86" ry="2.09" fill="#e23fb0" opacity="0.95" transform="rotate(15 43.5 98)"/><ellipse cx="49.5" cy="93" rx="3.12" ry="2.28" fill="#e23fb0" opacity="0.95" transform="rotate(15 49.5 93)"/><ellipse cx="45.5" cy="103" rx="2.6" ry="1.9" fill="#e23fb0" opacity="0.95" transform="rotate(15 45.5 103)"/><ellipse cx="51.5" cy="100" rx="2.34" ry="1.71" fill="#e23fb0" opacity="0.95" transform="rotate(15 51.5 100)"/>


<ellipse cx="127.8" cy="84" rx="2.6" ry="1.9" fill="#e23fb0" opacity="0.95" transform="rotate(-20 127.8 84)"/>
<ellipse cx="98.5" cy="95.2" rx="2.86" ry="2.09" fill="#e23fb0" opacity="0.95" transform="rotate(-10 98.5 95.2)"/><ellipse cx="95.8" cy="100.2" rx="2.34" ry="1.71" fill="#e23fb0" opacity="0.95" transform="rotate(-10 95.8 100.2)"/><ellipse cx="95.3" cy="87.2" rx="2.08" ry="1.52" fill="#e23fb0" opacity="0.95" transform="rotate(-10 95.3 87.2)"/>




</g>
<text x="1.8" y="5.6" font-size="5.2" fill="#62b4e6" textLength="31" lengthAdjust="spacingAndGlyphs" font-weight="bold">Calcein Blue</text>
<text x="2.1" y="13.2" font-size="5.2" fill="#e8341c" textLength="17" lengthAdjust="spacingAndGlyphs" font-weight="bold">TMRM</text>
<rect x="128.8" y="131.8" width="15" height="2" fill="#fff" />
</g></g>
<g transform="translate(268.1 1063.2)">
<clipPath id="cp11"><rect x="0" y="0" width="145.7" height="139.1"/></clipPath>
<rect x="0" y="0" width="145.7" height="139.1" fill="#0a0609" />
<g clip-path="url(#cp11)">
<g filter="url(#b1)" fill="none" stroke-linecap="round" stroke-linejoin="round">
<path d="M56 88 L85 86.5 L110 84.5 L146 82.5" stroke="#9048c8" stroke-width="2.4" opacity="0.9"/>
<path d="M0 70.5 L25 82 L48 92.4" stroke="#7a30a0" stroke-width="1.4" opacity="0.48"/>
<path d="M48 100.8 L40 115 L30 131" stroke="#c02a90" stroke-width="2" opacity="0.54"/>
<path d="M91.9 113 L100 124 L108.8 134.8 L110 140" stroke="#c02a90" stroke-width="1.9" opacity="0.51"/>
<path d="M108.8 125 L128 116 L146 107" stroke="#7a30a0" stroke-width="1.4" opacity="0.48"/>
<path d="M76 92 L92 112" stroke="#7a30a0" stroke-width="1.3" opacity="0.42"/>
<path d="M47 25 L50 50 L51 76" stroke="#2a1858" stroke-width="1.3" opacity="0.48"/>
<path d="M0 14 L40 10 L80 22 L146 20" stroke="#2a1858" stroke-width="1.2" opacity="0.3"/>
<path d="M90 46 L80 58 L60 80" stroke="#2a1858" stroke-width="1.2" opacity="0.36"/>
<path d="M60 104 L78 122 L88 140" stroke="#7a30a0" stroke-width="1.2" opacity="0.36"/>
<path d="M100 0 L110 40 L122 80" stroke="#2a1858" stroke-width="1.2" opacity="0.36"/>
<path d="M146 40 L125 60 L100 84" stroke="#2a1858" stroke-width="1.1" opacity="0.3"/>
<path d="M20 100 L45 96" stroke="#b02378" stroke-width="1.2" opacity="0.36"/>
<path d="M128 30 L131 50" stroke="#b02378" stroke-width="1" opacity="0.3"/>
<path d="M40 62 L52 78" stroke="#b02378" stroke-width="1.2" opacity="0.36"/>
<path d="M0 90 L22 118 L30 139" stroke="#2a1858" stroke-width="1.1" opacity="0.3"/>
<path d="M60 0 L72 30 L96 60 L146 92" stroke="#2a1858" stroke-width="1" opacity="0.27"/>
<path d="M0 132 L8 128" stroke="#4038c0" stroke-width="2.2" opacity="0.8"/>
<path d="M56 88 L85 86.5 L110 84.5 L140 82.8" stroke="#e03aa0" stroke-width="1.8" opacity="0.6" stroke-dasharray="1.2 2.6"/>
<path d="M48 100.8 L40 115 L30 131" stroke="#f040a0" stroke-width="1.6" opacity="0.54" stroke-dasharray="1.5 2"/>
<path d="M91.9 113 L100 124 L108.8 134.8" stroke="#f040a0" stroke-width="1.6" opacity="0.54" stroke-dasharray="1.5 2"/>
<path d="M20 72 L36 84 L46 92" stroke="#e03aa0" stroke-width="1.4" opacity="0.48" stroke-dasharray="1.2 2.2"/>
<path d="M55 102 L68 118 L80 138" stroke="#d03098" stroke-width="1.3" opacity="0.42" stroke-dasharray="1.2 2.5"/>
<path d="M108.8 125 L128 116 L146 107" stroke="#e03aa0" stroke-width="1.3" opacity="0.42" stroke-dasharray="1.2 2.5"/>
<path d="M30 95 L44 97" stroke="#f040a0" stroke-width="1.6" opacity="0.48" stroke-dasharray="1.2 1.8"/>
<path d="M108 48 L114 52 L112 58" stroke="#e04030" stroke-width="1.2" opacity="0.42" stroke-dasharray="1 1.5"/>
<path d="M136 52 L142 56 L146 52" stroke="#e04030" stroke-width="1.1" opacity="0.36" stroke-dasharray="1 1.5"/>
<path d="M128 26 L131 50" stroke="#e03a70" stroke-width="1.2" opacity="0.42" stroke-dasharray="1 2"/>
<path d="M36 60 L44 70" stroke="#f04050" stroke-width="1.3" opacity="0.48" stroke-dasharray="1.2 1.5"/>
<path d="M95 100 L90 112" stroke="#e03aa0" stroke-width="1.3" opacity="0.42" stroke-dasharray="1.2 2"/>
<path d="M60 20 L100 30 L146 36" stroke="#2a1858" stroke-width="1.1" opacity="0.3"/>
<path d="M93 47 L96 88" stroke="#2a1858" stroke-width="1.1" opacity="0.33"/>
</g>
<g filter="url(#b3)" opacity="0.32">
<ellipse cx="33.7" cy="17.5" rx="6.81" ry="6.58" fill="#a046dc"/>
<ellipse cx="46.5" cy="19.6" rx="5.4" ry="7.52" fill="#a046dc" transform="rotate(-10 46.5 19.6)"/>
<ellipse cx="40.5" cy="25" rx="3.29" ry="3.29" fill="#352c9c" opacity="0.9"/>
<ellipse cx="83.5" cy="27" rx="2.58" ry="3.76" fill="#352c9c" opacity="0.7" transform="rotate(15 83.5 27)"/>
<ellipse cx="89.5" cy="40" rx="7.28" ry="7.05" fill="#a046dc" transform="rotate(-30 89.5 40)"/>
<ellipse cx="13.7" cy="59" rx="4.7" ry="4.46" fill="#4639c8"/>
<ellipse cx="67.5" cy="64.5" rx="6.58" ry="4.7" fill="#352c9c" opacity="0.85" transform="rotate(30 67.5 64.5)"/>
<ellipse cx="46.5" cy="94" rx="8.22" ry="9.99" fill="#a046dc" opacity="0.5" transform="rotate(15 46.5 94)"/>
<ellipse cx="50.3" cy="82.5" rx="6.81" ry="7.75" fill="#a046dc" transform="rotate(-10 50.3 82.5)"/>
<ellipse cx="52.5" cy="100.8" rx="7.05" ry="6.11" fill="#a046dc" transform="rotate(-30 52.5 100.8)"/>
<ellipse cx="40" cy="103" rx="3.05" ry="2.35" fill="#e23fb0"/>
<ellipse cx="124.5" cy="86.5" rx="9.16" ry="5.87" fill="#b04ad0" transform="rotate(-25 124.5 86.5)"/>
<ellipse cx="94.3" cy="95" rx="5.87" ry="7.64" fill="#a046dc" transform="rotate(-10 94.3 95)"/>
<ellipse cx="73.3" cy="111.6" rx="5.64" ry="6.81" fill="#a046dc" transform="rotate(10 73.3 111.6)"/>
<ellipse cx="43" cy="132.4" rx="4.46" ry="3.76" fill="#352c9c" opacity="0.85"/>
<ellipse cx="121.6" cy="116.5" rx="2" ry="2" fill="#f0307a"/>
<ellipse cx="2" cy="134" rx="4.7" ry="1.88" fill="#4639c8" opacity="0.8" transform="rotate(-35 2 134)"/>
</g>
<g filter="url(#b1)">
<ellipse cx="33.7" cy="17.5" rx="5.45" ry="5.26" fill="#a046dc"/>
<ellipse cx="46.5" cy="19.6" rx="4.32" ry="6.02" fill="#a046dc" transform="rotate(-10 46.5 19.6)"/>
<ellipse cx="40.5" cy="25" rx="2.63" ry="2.63" fill="#352c9c" opacity="0.9"/>
<ellipse cx="83.5" cy="27" rx="2.07" ry="3.01" fill="#352c9c" opacity="0.7" transform="rotate(15 83.5 27)"/>
<ellipse cx="89.5" cy="40" rx="5.83" ry="5.64" fill="#a046dc" transform="rotate(-30 89.5 40)"/>
<ellipse cx="13.7" cy="59" rx="3.76" ry="3.57" fill="#4639c8"/>
<ellipse cx="67.5" cy="64.5" rx="5.26" ry="3.76" fill="#352c9c" opacity="0.85" transform="rotate(30 67.5 64.5)"/>
<ellipse cx="46.5" cy="94" rx="6.58" ry="7.99" fill="#a046dc" opacity="0.5" transform="rotate(15 46.5 94)"/>
<ellipse cx="50.3" cy="82.5" rx="5.45" ry="6.2" fill="#a046dc" transform="rotate(-10 50.3 82.5)"/>
<ellipse cx="52.5" cy="100.8" rx="5.64" ry="4.89" fill="#a046dc" transform="rotate(-30 52.5 100.8)"/>
<ellipse cx="40" cy="103" rx="2.44" ry="1.88" fill="#e23fb0"/>
<ellipse cx="124.5" cy="86.5" rx="7.33" ry="4.7" fill="#b04ad0" transform="rotate(-25 124.5 86.5)"/>
<ellipse cx="94.3" cy="95" rx="4.7" ry="6.11" fill="#a046dc" transform="rotate(-10 94.3 95)"/>
<ellipse cx="73.3" cy="111.6" rx="4.51" ry="5.45" fill="#a046dc" transform="rotate(10 73.3 111.6)"/>
<ellipse cx="43" cy="132.4" rx="3.57" ry="3.01" fill="#352c9c" opacity="0.85"/>
<ellipse cx="121.6" cy="116.5" rx="1.6" ry="1.6" fill="#f0307a"/>
<ellipse cx="2" cy="134" rx="3.76" ry="1.5" fill="#4639c8" opacity="0.8" transform="rotate(-35 2 134)"/>
</g>
<g filter="url(#b2)">
<ellipse cx="34.5" cy="17.7" rx="5.02" ry="4.84" fill="#4639c8" opacity="0.95"/>
<ellipse cx="46.2" cy="19.3" rx="3.98" ry="5.53" fill="#4639c8" opacity="0.95" transform="rotate(-10 46.2 19.3)"/>

<ellipse cx="83.8" cy="27.6" rx="0.93" ry="1.35" fill="#f0307a" opacity="0.95" transform="rotate(15 83.8 27.6)"/>
<ellipse cx="88.7" cy="39" rx="5.25" ry="5.08" fill="#4639c8" opacity="0.95" transform="rotate(-30 88.7 39)"/>

<ellipse cx="68.5" cy="65.5" rx="3.16" ry="2.26" fill="#4639c8" opacity="0.95" transform="rotate(30 68.5 65.5)"/>

<ellipse cx="50.3" cy="82.2" rx="5.02" ry="5.71" fill="#4639c8" opacity="0.95" transform="rotate(-10 50.3 82.2)"/>
<ellipse cx="53.7" cy="100.8" rx="4.51" ry="3.91" fill="#4639c8" opacity="0.95" transform="rotate(-30 53.7 100.8)"/>

<ellipse cx="124.5" cy="86.5" rx="5.13" ry="3.29" fill="#a046dc" opacity="0.95" transform="rotate(-25 124.5 86.5)"/>
<ellipse cx="93.8" cy="94.6" rx="4.32" ry="5.62" fill="#4639c8" opacity="0.95" transform="rotate(-10 93.8 94.6)"/>
<ellipse cx="73.3" cy="111.3" rx="4.15" ry="5.02" fill="#4639c8" opacity="0.95" transform="rotate(10 73.3 111.3)"/>



</g>
<g filter="url(#b1)">
<ellipse cx="29.7" cy="16" rx="2.86" ry="2.09" fill="#e23fb0" opacity="0.95"/><ellipse cx="31.7" cy="13" rx="2.08" ry="1.52" fill="#e23fb0" opacity="0.95"/>



<ellipse cx="91" cy="44.2" rx="3.9" ry="2.85" fill="#e23fb0" opacity="0.95" transform="rotate(-30 91 44.2)"/><ellipse cx="87" cy="44.8" rx="2.34" ry="1.71" fill="#e23fb0" opacity="0.95" transform="rotate(-30 87 44.8)"/>

<ellipse cx="65.3" cy="63.1" rx="2.34" ry="1.71" fill="#e23fb0" opacity="0.95" transform="rotate(30 65.3 63.1)"/>
<ellipse cx="42.5" cy="98" rx="2.6" ry="1.9" fill="#e23fb0" opacity="0.95" transform="rotate(15 42.5 98)"/><ellipse cx="48.5" cy="93" rx="2.86" ry="2.09" fill="#e23fb0" opacity="0.95" transform="rotate(15 48.5 93)"/><ellipse cx="44.5" cy="102" rx="2.34" ry="1.71" fill="#e23fb0" opacity="0.95" transform="rotate(15 44.5 102)"/>



<ellipse cx="126.5" cy="85.5" rx="2.34" ry="1.71" fill="#e23fb0" opacity="0.95" transform="rotate(-25 126.5 85.5)"/>
<ellipse cx="97.5" cy="96" rx="2.6" ry="1.9" fill="#e23fb0" opacity="0.95" transform="rotate(-10 97.5 96)"/><ellipse cx="94.8" cy="101" rx="2.08" ry="1.52" fill="#e23fb0" opacity="0.95" transform="rotate(-10 94.8 101)"/><ellipse cx="94.3" cy="88" rx="1.95" ry="1.42" fill="#e23fb0" opacity="0.95" transform="rotate(-10 94.3 88)"/>




</g>
<rect x="127.8" y="131.8" width="15" height="2" fill="#fff" />
</g></g>
<g transform="translate(427 1063.2)">
<clipPath id="cp12"><rect x="0" y="0" width="145.4" height="138.5"/></clipPath>
<rect x="0" y="0" width="145.4" height="138.5" fill="#0a0609" />
<g clip-path="url(#cp12)">
<g filter="url(#b1)" fill="none" stroke-linecap="round" stroke-linejoin="round">
<path d="M56 88 L85 86.5 L110 84.5 L146 82.5" stroke="#6a3aa8" stroke-width="1.3" opacity="0.8"/>
<path d="M0 70.5 L25 82 L48 92.4" stroke="#7a30a0" stroke-width="1.4" opacity="0.22"/>
<path d="M48 100.8 L40 115 L30 131" stroke="#c02a90" stroke-width="2" opacity="0.25"/>
<path d="M91.9 113 L100 124 L108.8 134.8 L110 140" stroke="#c02a90" stroke-width="1.9" opacity="0.24"/>
<path d="M108.8 125 L128 116 L146 107" stroke="#7a30a0" stroke-width="1.4" opacity="0.22"/>
<path d="M76 92 L92 112" stroke="#7a30a0" stroke-width="1.3" opacity="0.2"/>
<path d="M47 25 L50 50 L51 76" stroke="#2a1858" stroke-width="1.3" opacity="0.22"/>
<path d="M0 14 L40 10 L80 22 L146 20" stroke="#2a1858" stroke-width="1.2" opacity="0.14"/>
<path d="M90 46 L80 58 L60 80" stroke="#2a1858" stroke-width="1.2" opacity="0.17"/>
<path d="M60 104 L78 122 L88 140" stroke="#7a30a0" stroke-width="1.2" opacity="0.17"/>
<path d="M100 0 L110 40 L122 80" stroke="#2a1858" stroke-width="1.2" opacity="0.17"/>
<path d="M146 40 L125 60 L100 84" stroke="#2a1858" stroke-width="1.1" opacity="0.14"/>
<path d="M20 100 L45 96" stroke="#b02378" stroke-width="1.2" opacity="0.17"/>
<path d="M128 30 L131 50" stroke="#b02378" stroke-width="1" opacity="0.14"/>
<path d="M40 62 L52 78" stroke="#b02378" stroke-width="1.2" opacity="0.17"/>
<path d="M0 90 L22 118 L30 139" stroke="#2a1858" stroke-width="1.1" opacity="0.14"/>
<path d="M60 0 L72 30 L96 60 L146 92" stroke="#2a1858" stroke-width="1" opacity="0.13"/>
<path d="M0 132 L8 128" stroke="#4038c0" stroke-width="2.2" opacity="0.8"/>
<path d="M56 88 L85 86.5 L110 84.5 L140 82.8" stroke="#e03aa0" stroke-width="1" opacity="0.5" stroke-dasharray="1.2 2.6"/>
<path d="M48 100.8 L40 115 L30 131" stroke="#f040a0" stroke-width="1.6" opacity="0.25" stroke-dasharray="1.5 2"/>
<path d="M91.9 113 L100 124 L108.8 134.8" stroke="#f040a0" stroke-width="1.6" opacity="0.25" stroke-dasharray="1.5 2"/>
<path d="M20 72 L36 84 L46 92" stroke="#e03aa0" stroke-width="1.4" opacity="0.22" stroke-dasharray="1.2 2.2"/>
<path d="M55 102 L68 118 L80 138" stroke="#d03098" stroke-width="1.3" opacity="0.2" stroke-dasharray="1.2 2.5"/>
<path d="M108.8 125 L128 116 L146 107" stroke="#e03aa0" stroke-width="1.3" opacity="0.2" stroke-dasharray="1.2 2.5"/>
<path d="M30 95 L44 97" stroke="#f040a0" stroke-width="1.6" opacity="0.22" stroke-dasharray="1.2 1.8"/>
<path d="M108 48 L114 52 L112 58" stroke="#e04030" stroke-width="1.2" opacity="0.2" stroke-dasharray="1 1.5"/>
<path d="M136 52 L142 56 L146 52" stroke="#e04030" stroke-width="1.1" opacity="0.17" stroke-dasharray="1 1.5"/>
<path d="M128 26 L131 50" stroke="#e03a70" stroke-width="1.2" opacity="0.2" stroke-dasharray="1 2"/>
<path d="M36 60 L44 70" stroke="#f04050" stroke-width="1.3" opacity="0.22" stroke-dasharray="1.2 1.5"/>
<path d="M95 100 L90 112" stroke="#e03aa0" stroke-width="1.3" opacity="0.2" stroke-dasharray="1.2 2"/>
<path d="M60 20 L100 30 L146 36" stroke="#2a1858" stroke-width="1.1" opacity="0.14"/>
<path d="M93 47 L96 88" stroke="#2a1858" stroke-width="1.1" opacity="0.15"/>
</g>
<g filter="url(#b3)" opacity="0.32">
<ellipse cx="34.2" cy="16.6" rx="5.4" ry="5.17" fill="#352c9c" opacity="0.9"/>
<ellipse cx="46.9" cy="19" rx="4.58" ry="6.34" fill="#352c9c" opacity="0.9" transform="rotate(-10 46.9 19)"/>
<ellipse cx="41" cy="24.5" rx="2.82" ry="2.82" fill="#352c9c" opacity="0.5"/>
<ellipse cx="90" cy="39.6" rx="6.81" ry="6.46" fill="#7450e0" transform="rotate(-30 90 39.6)"/>
<ellipse cx="14.8" cy="58.4" rx="3.99" ry="3.99" fill="#352c9c" opacity="0.85"/>
<ellipse cx="68" cy="63.3" rx="4.7" ry="3.99" fill="#352c9c" opacity="0.6" transform="rotate(30 68 63.3)"/>
<ellipse cx="46.3" cy="93.6" rx="7.05" ry="8.22" fill="#a046dc" opacity="0.45" transform="rotate(15 46.3 93.6)"/>
<ellipse cx="50.5" cy="82" rx="6.46" ry="6.81" fill="#a046dc" transform="rotate(-10 50.5 82)"/>
<ellipse cx="52.4" cy="100.2" rx="7.05" ry="5.64" fill="#a046dc" transform="rotate(-30 52.4 100.2)"/>
<ellipse cx="40.5" cy="101.5" rx="2.82" ry="2.35" fill="#e23fb0"/>
<ellipse cx="44.5" cy="105.5" rx="3.29" ry="1.88" fill="#f0307a" transform="rotate(-20 44.5 105.5)"/>
<ellipse cx="33" cy="90.5" rx="1.88" ry="1.88" fill="#e23fb0" opacity="0.9"/>
<ellipse cx="73" cy="83.9" rx="2.82" ry="2.82" fill="#4639c8" opacity="0.9"/>
<ellipse cx="122.7" cy="85" rx="7.75" ry="6.34" fill="#a046dc" transform="rotate(-20 122.7 85)"/>
<ellipse cx="130.5" cy="79" rx="2.35" ry="1.53" fill="#f0307a" transform="rotate(-30 130.5 79)"/>
<ellipse cx="94.2" cy="93" rx="5.64" ry="7.05" fill="#7450e0" transform="rotate(-10 94.2 93)"/>
<ellipse cx="74" cy="109.6" rx="5.4" ry="5.99" fill="#4639c8" transform="rotate(10 74 109.6)"/>
<ellipse cx="44.5" cy="130.5" rx="3.52" ry="3.52" fill="#352c9c" opacity="0.6"/>
<ellipse cx="122.5" cy="114" rx="1.41" ry="1.29" fill="#f0307a"/>
<ellipse cx="3" cy="132" rx="5.29" ry="1.64" fill="#4639c8" opacity="0.7" transform="rotate(-30 3 132)"/>
</g>
<g filter="url(#b1)">
<ellipse cx="34.2" cy="16.6" rx="4.32" ry="4.14" fill="#352c9c" opacity="0.9"/>
<ellipse cx="46.9" cy="19" rx="3.67" ry="5.08" fill="#352c9c" opacity="0.9" transform="rotate(-10 46.9 19)"/>
<ellipse cx="41" cy="24.5" rx="2.26" ry="2.26" fill="#352c9c" opacity="0.5"/>
<ellipse cx="90" cy="39.6" rx="5.45" ry="5.17" fill="#7450e0" transform="rotate(-30 90 39.6)"/>
<ellipse cx="14.8" cy="58.4" rx="3.2" ry="3.2" fill="#352c9c" opacity="0.85"/>
<ellipse cx="68" cy="63.3" rx="3.76" ry="3.2" fill="#352c9c" opacity="0.6" transform="rotate(30 68 63.3)"/>
<ellipse cx="46.3" cy="93.6" rx="5.64" ry="6.58" fill="#a046dc" opacity="0.45" transform="rotate(15 46.3 93.6)"/>
<ellipse cx="50.5" cy="82" rx="5.17" ry="5.45" fill="#a046dc" transform="rotate(-10 50.5 82)"/>
<ellipse cx="52.4" cy="100.2" rx="5.64" ry="4.51" fill="#a046dc" transform="rotate(-30 52.4 100.2)"/>
<ellipse cx="40.5" cy="101.5" rx="2.26" ry="1.88" fill="#e23fb0"/>
<ellipse cx="44.5" cy="105.5" rx="2.63" ry="1.5" fill="#f0307a" transform="rotate(-20 44.5 105.5)"/>
<ellipse cx="33" cy="90.5" rx="1.5" ry="1.5" fill="#e23fb0" opacity="0.9"/>
<ellipse cx="73" cy="83.9" rx="2.26" ry="2.26" fill="#4639c8" opacity="0.9"/>
<ellipse cx="122.7" cy="85" rx="6.2" ry="5.08" fill="#a046dc" transform="rotate(-20 122.7 85)"/>
<ellipse cx="130.5" cy="79" rx="1.88" ry="1.22" fill="#f0307a" transform="rotate(-30 130.5 79)"/>
<ellipse cx="94.2" cy="93" rx="4.51" ry="5.64" fill="#7450e0" transform="rotate(-10 94.2 93)"/>
<ellipse cx="74" cy="109.6" rx="4.32" ry="4.79" fill="#4639c8" transform="rotate(10 74 109.6)"/>
<ellipse cx="44.5" cy="130.5" rx="2.82" ry="2.82" fill="#352c9c" opacity="0.6"/>
<ellipse cx="122.5" cy="114" rx="1.13" ry="1.03" fill="#f0307a"/>
<ellipse cx="3" cy="132" rx="4.23" ry="1.32" fill="#4639c8" opacity="0.7" transform="rotate(-30 3 132)"/>
</g>
<g filter="url(#b2)">
<ellipse cx="34.2" cy="16.6" rx="3.03" ry="2.9" fill="#4639c8" opacity="0.95"/>
<ellipse cx="46.9" cy="19" rx="2.57" ry="3.55" fill="#4639c8" opacity="0.95" transform="rotate(-10 46.9 19)"/>

<ellipse cx="89.5" cy="39" rx="5.02" ry="4.76" fill="#4639c8" opacity="0.95" transform="rotate(-30 89.5 39)"/>



<ellipse cx="50.5" cy="82" rx="4.76" ry="5.02" fill="#4639c8" opacity="0.95" transform="rotate(-10 50.5 82)"/>
<ellipse cx="52.9" cy="100.2" rx="5.08" ry="4.06" fill="#4639c8" opacity="0.95" transform="rotate(-30 52.9 100.2)"/>




<ellipse cx="122.2" cy="85.3" rx="5.58" ry="4.57" fill="#4639c8" opacity="0.95" transform="rotate(-20 122.2 85.3)"/>

<ellipse cx="93.7" cy="93.2" rx="4.15" ry="5.19" fill="#4639c8" opacity="0.95" transform="rotate(-10 93.7 93.2)"/>




</g>
<g filter="url(#b1)">



<ellipse cx="90.5" cy="44.2" rx="3.12" ry="2.28" fill="#f0307a" opacity="0.95" transform="rotate(-30 90.5 44.2)"/>

<ellipse cx="66" cy="61.3" rx="1.43" ry="1.04" fill="#f0307a" opacity="0.95" transform="rotate(30 66 61.3)"/>
<ellipse cx="43.3" cy="96.6" rx="2.34" ry="1.71" fill="#e23fb0" opacity="0.95" transform="rotate(15 43.3 96.6)"/><ellipse cx="47.3" cy="92.6" rx="2.6" ry="1.9" fill="#e23fb0" opacity="0.95" transform="rotate(15 47.3 92.6)"/>








<ellipse cx="97.4" cy="93" rx="2.6" ry="1.9" fill="#f0307a" opacity="0.95" transform="rotate(-10 97.4 93)"/><ellipse cx="95.2" cy="87.5" rx="2.08" ry="1.52" fill="#f0307a" opacity="0.95" transform="rotate(-10 95.2 87.5)"/>




</g>
<rect x="126.8" y="131.8" width="15" height="2" fill="#fff" />
</g></g>
<g transform="translate(586 1063.2)">
<clipPath id="cp13"><rect x="0" y="0" width="146.7" height="139.1"/></clipPath>
<rect x="0" y="0" width="146.7" height="139.1" fill="#0a0609" />
<g clip-path="url(#cp13)">
<ellipse cx="60" cy="90" rx="90" ry="55" fill="url(#hzB)" opacity="0.5"/>
<ellipse cx="115" cy="100" rx="60" ry="50" fill="url(#hzB)" opacity="0.45"/>
<ellipse cx="70" cy="28" rx="85" ry="40" fill="url(#hzB)" opacity="0.4"/>
<ellipse cx="20" cy="120" rx="50" ry="40" fill="url(#hzB)" opacity="0.3"/>
<g filter="url(#b1)" fill="none" stroke-linecap="round" stroke-linejoin="round">
<path d="M58 86 L90 84 L120 81 L147 79" stroke="#4a40d8" stroke-width="3" opacity="1"/>
<path d="M1.2 59.6 L25 75 L47.3 88.7" stroke="#2a2270" stroke-width="1.6" opacity="0.9"/>
<path d="M47.3 103 L38 118 L29 139" stroke="#3d34b0" stroke-width="2" opacity="0.9"/>
<path d="M77.6 92.4 L95 110 L106.7 124 L108 139" stroke="#3d34b0" stroke-width="1.6" opacity="0.85"/>
<path d="M106.7 121.5 L125 114 L146.7 103" stroke="#3d34b0" stroke-width="1.5" opacity="0.8"/>
<path d="M50 20 L52 50 L52 75" stroke="#2a2270" stroke-width="1.3" opacity="0.7"/>
<path d="M0 12 L30 8 L60 18 L100 10 L146 18" stroke="#2a2270" stroke-width="1.2" opacity="0.5"/>
<path d="M91 43 L80 60 L60 80" stroke="#2a2270" stroke-width="1.2" opacity="0.6"/>
<path d="M60 100 L80 118 L90 139" stroke="#2a2270" stroke-width="1.3" opacity="0.7"/>
<path d="M100 0 L112 40 L125 76" stroke="#2a2270" stroke-width="1.2" opacity="0.55"/>
<path d="M146 40 L125 60 L100 84" stroke="#2a2270" stroke-width="1.1" opacity="0.5"/>
<path d="M0 128 L10 124" stroke="#3d34b0" stroke-width="2.4" opacity="0.8"/>
<path d="M130 85 L146 110" stroke="#2a2270" stroke-width="1.2" opacity="0.5"/>
<path d="M20 100 L45 92" stroke="#2a2270" stroke-width="1.2" opacity="0.6"/>
<path d="M0 90 L20 120 L30 139" stroke="#2a2270" stroke-width="1.1" opacity="0.45"/>
<path d="M60 0 L70 30 L95 60 L146 90" stroke="#2a2270" stroke-width="1" opacity="0.4"/>
</g>
<g filter="url(#b3)" opacity="0.32">
<ellipse cx="35.8" cy="13.6" rx="6.81" ry="5.99" fill="#4639c8"/>
<ellipse cx="48.7" cy="16" rx="5.64" ry="8.22" fill="#4639c8" transform="rotate(-8 48.7 16)"/>
<ellipse cx="43" cy="22" rx="3.05" ry="3.52" fill="#352c9c" opacity="0.8"/>
<ellipse cx="86.5" cy="23" rx="2.11" ry="4.23" fill="#352c9c" opacity="0.6" transform="rotate(20 86.5 23)"/>
<ellipse cx="91.5" cy="37.2" rx="7.17" ry="6.81" fill="#4639c8" transform="rotate(-25 91.5 37.2)"/>
<ellipse cx="16.4" cy="55.8" rx="4.35" ry="4.23" fill="#4639c8"/>
<ellipse cx="70.3" cy="60.2" rx="7.17" ry="4.7" fill="#352c9c" opacity="0.85" transform="rotate(30 70.3 60.2)"/>
<ellipse cx="52" cy="79" rx="7.87" ry="7.87" fill="#4639c8"/>
<ellipse cx="60" cy="85" rx="10.57" ry="4.7" fill="#4639c8" opacity="0.9" transform="rotate(10 60 85)"/>
<ellipse cx="125.5" cy="80.8" rx="9.99" ry="6.11" fill="#4639c8" transform="rotate(-25 125.5 80.8)"/>
<ellipse cx="95.8" cy="90" rx="5.99" ry="6.81" fill="#4639c8" transform="rotate(-10 95.8 90)"/>
<ellipse cx="53.3" cy="97.8" rx="7.87" ry="5.64" fill="#5a45d8" transform="rotate(-35 53.3 97.8)"/>
<ellipse cx="41.8" cy="98.4" rx="3.05" ry="2.58" fill="#6a5ae8"/>
<ellipse cx="75.4" cy="106.3" rx="5.4" ry="5.99" fill="#4639c8" transform="rotate(10 75.4 106.3)"/>
<ellipse cx="124" cy="111" rx="2.35" ry="2.11" fill="#a02878" opacity="0.8"/>
<ellipse cx="45" cy="128" rx="3.99" ry="3.52" fill="#4a2060" opacity="0.6"/>
</g>
<g filter="url(#b1)">
<ellipse cx="35.8" cy="13.6" rx="5.45" ry="4.79" fill="#4639c8"/>
<ellipse cx="48.7" cy="16" rx="4.51" ry="6.58" fill="#4639c8" transform="rotate(-8 48.7 16)"/>
<ellipse cx="43" cy="22" rx="2.44" ry="2.82" fill="#352c9c" opacity="0.8"/>
<ellipse cx="86.5" cy="23" rx="1.69" ry="3.38" fill="#352c9c" opacity="0.6" transform="rotate(20 86.5 23)"/>
<ellipse cx="91.5" cy="37.2" rx="5.73" ry="5.45" fill="#4639c8" transform="rotate(-25 91.5 37.2)"/>
<ellipse cx="16.4" cy="55.8" rx="3.48" ry="3.38" fill="#4639c8"/>
<ellipse cx="70.3" cy="60.2" rx="5.73" ry="3.76" fill="#352c9c" opacity="0.85" transform="rotate(30 70.3 60.2)"/>
<ellipse cx="52" cy="79" rx="6.3" ry="6.3" fill="#4639c8"/>
<ellipse cx="60" cy="85" rx="8.46" ry="3.76" fill="#4639c8" opacity="0.9" transform="rotate(10 60 85)"/>
<ellipse cx="125.5" cy="80.8" rx="7.99" ry="4.89" fill="#4639c8" transform="rotate(-25 125.5 80.8)"/>
<ellipse cx="95.8" cy="90" rx="4.79" ry="5.45" fill="#4639c8" transform="rotate(-10 95.8 90)"/>
<ellipse cx="53.3" cy="97.8" rx="6.3" ry="4.51" fill="#5a45d8" transform="rotate(-35 53.3 97.8)"/>
<ellipse cx="41.8" cy="98.4" rx="2.44" ry="2.07" fill="#6a5ae8"/>
<ellipse cx="75.4" cy="106.3" rx="4.32" ry="4.79" fill="#4639c8" transform="rotate(10 75.4 106.3)"/>
<ellipse cx="124" cy="111" rx="1.88" ry="1.69" fill="#a02878" opacity="0.8"/>
<ellipse cx="45" cy="128" rx="3.2" ry="2.82" fill="#4a2060" opacity="0.6"/>
</g>
<g filter="url(#b2)">
















</g>
<g filter="url(#b1)">










<ellipse cx="98" cy="95.5" rx="1.17" ry="0.85" fill="#f0307a" opacity="0.95" transform="rotate(-10 98 95.5)"/>





</g>
<rect x="127.8" y="131.8" width="15" height="2" fill="#fff" />
</g></g>
</g>
<g id="panelF">
<text x="1012" y="858.7" font-size="27.4" fill="#111" stroke="#111" stroke-width="0.55" textLength="29.85" lengthAdjust="spacingAndGlyphs">(F)</text>
<line x1="1168.7" y1="905.2" x2="1168.7" y2="1190.4" stroke="#111" stroke-width="1.3" />
<line x1="1168.1" y1="1189.8" x2="1544.4" y2="1189.8" stroke="#111" stroke-width="1.3" />
<line x1="1162.5" y1="905.8" x2="1168.7" y2="905.8" stroke="#111" stroke-width="1.2" />
<text x="1131.17" y="910.4" font-size="13.4" fill="#111" stroke="#111" stroke-width="0.27" textLength="20.57" lengthAdjust="spacingAndGlyphs">10</text>
<line x1="1162.5" y1="937.36" x2="1168.7" y2="937.36" stroke="#111" stroke-width="1.2" />
<text x="1141.44" y="941.96" font-size="13.4" fill="#111" stroke="#111" stroke-width="0.27" textLength="10.28" lengthAdjust="spacingAndGlyphs">0</text>
<line x1="1162.5" y1="968.91" x2="1168.7" y2="968.91" stroke="#111" stroke-width="1.2" />
<text x="1124.98" y="973.51" font-size="13.4" fill="#111" stroke="#111" stroke-width="0.27" textLength="26.73" lengthAdjust="spacingAndGlyphs">-10</text>
<line x1="1162.5" y1="1000.47" x2="1168.7" y2="1000.47" stroke="#111" stroke-width="1.2" />
<text x="1124.98" y="1005.07" font-size="13.4" fill="#111" stroke="#111" stroke-width="0.27" textLength="26.73" lengthAdjust="spacingAndGlyphs">-20</text>
<line x1="1162.5" y1="1032.02" x2="1168.7" y2="1032.02" stroke="#111" stroke-width="1.2" />
<text x="1124.98" y="1036.62" font-size="13.4" fill="#111" stroke="#111" stroke-width="0.27" textLength="26.73" lengthAdjust="spacingAndGlyphs">-30</text>
<line x1="1162.5" y1="1063.58" x2="1168.7" y2="1063.58" stroke="#111" stroke-width="1.2" />
<text x="1124.98" y="1068.18" font-size="13.4" fill="#111" stroke="#111" stroke-width="0.27" textLength="26.73" lengthAdjust="spacingAndGlyphs">-40</text>
<line x1="1162.5" y1="1095.13" x2="1168.7" y2="1095.13" stroke="#111" stroke-width="1.2" />
<text x="1124.98" y="1099.73" font-size="13.4" fill="#111" stroke="#111" stroke-width="0.27" textLength="26.73" lengthAdjust="spacingAndGlyphs">-50</text>
<line x1="1162.5" y1="1126.69" x2="1168.7" y2="1126.69" stroke="#111" stroke-width="1.2" />
<text x="1124.98" y="1131.29" font-size="13.4" fill="#111" stroke="#111" stroke-width="0.27" textLength="26.73" lengthAdjust="spacingAndGlyphs">-60</text>
<line x1="1162.5" y1="1158.24" x2="1168.7" y2="1158.24" stroke="#111" stroke-width="1.2" />
<text x="1124.98" y="1162.84" font-size="13.4" fill="#111" stroke="#111" stroke-width="0.27" textLength="26.73" lengthAdjust="spacingAndGlyphs">-70</text>
<line x1="1162.5" y1="1189.8" x2="1168.7" y2="1189.8" stroke="#111" stroke-width="1.2" />
<text x="1124.98" y="1194.4" font-size="13.4" fill="#111" stroke="#111" stroke-width="0.27" textLength="26.73" lengthAdjust="spacingAndGlyphs">-80</text>
<line x1="1168.7" y1="1189.8" x2="1168.7" y2="1194.6" stroke="#111" stroke-width="1.2" />
<line x1="1183.7" y1="1189.8" x2="1183.7" y2="1194.6" stroke="#111" stroke-width="1.2" />
<line x1="1198.71" y1="1189.8" x2="1198.71" y2="1194.6" stroke="#111" stroke-width="1.2" />
<line x1="1213.71" y1="1189.8" x2="1213.71" y2="1194.6" stroke="#111" stroke-width="1.2" />
<line x1="1228.72" y1="1189.8" x2="1228.72" y2="1194.6" stroke="#111" stroke-width="1.2" />
<line x1="1243.72" y1="1189.8" x2="1243.72" y2="1194.6" stroke="#111" stroke-width="1.2" />
<line x1="1258.72" y1="1189.8" x2="1258.72" y2="1194.6" stroke="#111" stroke-width="1.2" />
<line x1="1273.73" y1="1189.8" x2="1273.73" y2="1194.6" stroke="#111" stroke-width="1.2" />
<line x1="1288.73" y1="1189.8" x2="1288.73" y2="1194.6" stroke="#111" stroke-width="1.2" />
<line x1="1303.74" y1="1189.8" x2="1303.74" y2="1194.6" stroke="#111" stroke-width="1.2" />
<line x1="1318.74" y1="1189.8" x2="1318.74" y2="1194.6" stroke="#111" stroke-width="1.2" />
<line x1="1333.74" y1="1189.8" x2="1333.74" y2="1194.6" stroke="#111" stroke-width="1.2" />
<line x1="1348.75" y1="1189.8" x2="1348.75" y2="1194.6" stroke="#111" stroke-width="1.2" />
<line x1="1363.75" y1="1189.8" x2="1363.75" y2="1194.6" stroke="#111" stroke-width="1.2" />
<line x1="1378.76" y1="1189.8" x2="1378.76" y2="1194.6" stroke="#111" stroke-width="1.2" />
<line x1="1393.76" y1="1189.8" x2="1393.76" y2="1194.6" stroke="#111" stroke-width="1.2" />
<line x1="1408.76" y1="1189.8" x2="1408.76" y2="1194.6" stroke="#111" stroke-width="1.2" />
<line x1="1423.77" y1="1189.8" x2="1423.77" y2="1194.6" stroke="#111" stroke-width="1.2" />
<line x1="1438.77" y1="1189.8" x2="1438.77" y2="1194.6" stroke="#111" stroke-width="1.2" />
<line x1="1453.78" y1="1189.8" x2="1453.78" y2="1194.6" stroke="#111" stroke-width="1.2" />
<line x1="1468.78" y1="1189.8" x2="1468.78" y2="1194.6" stroke="#111" stroke-width="1.2" />
<line x1="1483.78" y1="1189.8" x2="1483.78" y2="1194.6" stroke="#111" stroke-width="1.2" />
<line x1="1498.79" y1="1189.8" x2="1498.79" y2="1194.6" stroke="#111" stroke-width="1.2" />
<line x1="1513.79" y1="1189.8" x2="1513.79" y2="1194.6" stroke="#111" stroke-width="1.2" />
<line x1="1528.8" y1="1189.8" x2="1528.8" y2="1194.6" stroke="#111" stroke-width="1.2" />
<line x1="1543.8" y1="1189.8" x2="1543.8" y2="1194.6" stroke="#111" stroke-width="1.2" />
<text x="1176" y="1219" font-size="14" fill="#111" stroke="#111" stroke-width="0.28" textLength="7.01" lengthAdjust="spacingAndGlyphs">1</text>
<text x="1204.4" y="1219" font-size="14" fill="#111" stroke="#111" stroke-width="0.28" textLength="9.62" lengthAdjust="spacingAndGlyphs">3</text>
<text x="1234.4" y="1219" font-size="14" fill="#111" stroke="#111" stroke-width="0.28" textLength="9.62" lengthAdjust="spacingAndGlyphs">5</text>
<text x="1264.6" y="1219" font-size="14" fill="#111" stroke="#111" stroke-width="0.28" textLength="9.82" lengthAdjust="spacingAndGlyphs">7</text>
<text x="1294" y="1219" font-size="14" fill="#111" stroke="#111" stroke-width="0.28" textLength="10.12" lengthAdjust="spacingAndGlyphs">9</text>
<text x="1320.5" y="1219" font-size="14" fill="#111" stroke="#111" stroke-width="0.28" textLength="17.87" lengthAdjust="spacingAndGlyphs">11</text>
<text x="1350.7" y="1219" font-size="14" fill="#111" stroke="#111" stroke-width="0.28" textLength="19.64" lengthAdjust="spacingAndGlyphs">13</text>
<text x="1381.2" y="1219" font-size="14" fill="#111" stroke="#111" stroke-width="0.28" textLength="19.04" lengthAdjust="spacingAndGlyphs">15</text>
<text x="1411.1" y="1219" font-size="14" fill="#111" stroke="#111" stroke-width="0.28" textLength="18.54" lengthAdjust="spacingAndGlyphs">17</text>
<text x="1441.2" y="1219" font-size="14" fill="#111" stroke="#111" stroke-width="0.28" textLength="18.64" lengthAdjust="spacingAndGlyphs">19</text>
<text x="1469.6" y="1219" font-size="14" fill="#111" stroke="#111" stroke-width="0.28" textLength="19.04" lengthAdjust="spacingAndGlyphs">21</text>
<text x="1499.5" y="1219" font-size="14" fill="#111" stroke="#111" stroke-width="0.28" textLength="20.34" lengthAdjust="spacingAndGlyphs">23</text>
<text x="1529.6" y="1219" font-size="14" fill="#111" stroke="#111" stroke-width="0.28" textLength="20.54" lengthAdjust="spacingAndGlyphs">25</text>
<text x="1311.8" y="1250.2" font-size="15.2" fill="#111" stroke="#111" stroke-width="0.3" textLength="89.01" lengthAdjust="spacingAndGlyphs">Time (mins)</text>
<text x="1099.5" y="1123.2" font-size="17.5" fill="#111" stroke="#111" stroke-width="0.35" textLength="169.79" lengthAdjust="spacingAndGlyphs" transform="rotate(-90 1099.5 1123.2)">Tmrm Fluorescence (AU)</text>
<line x1="1203.7" y1="917.3" x2="1543.7" y2="917.3" stroke="#444" stroke-width="1" />
<text x="1237.1" y="912" font-size="14" fill="#111" stroke="#111" stroke-width="0.28" textLength="75.21" lengthAdjust="spacingAndGlyphs">Oligomycin</text>
<line x1="1335" y1="959.8" x2="1543.7" y2="959.8" stroke="#888" stroke-width="1.1" />
<text x="1367.8" y="953.5" font-size="13.6" fill="#111" stroke="#111" stroke-width="0.27" textLength="65.23" lengthAdjust="spacingAndGlyphs">Retonone</text>
<line x1="1448.3" y1="1040.6" x2="1543.2" y2="1040.6" stroke="#888" stroke-width="1.1" />
<text x="1479.2" y="1035.7" font-size="13.75" fill="#111" stroke="#111" stroke-width="0.28" textLength="40.43" lengthAdjust="spacingAndGlyphs">FCCP</text>
<line x1="1176.2" y1="938.1" x2="1176.2" y2="938.9" stroke="#222" stroke-width="1.35" />
<line x1="1172.1" y1="938.1" x2="1180.3" y2="938.1" stroke="#222" stroke-width="1.35" />
<line x1="1172.1" y1="938.9" x2="1180.3" y2="938.9" stroke="#222" stroke-width="1.35" />
<line x1="1191.21" y1="957.4" x2="1191.21" y2="958.4" stroke="#222" stroke-width="1.35" />
<line x1="1187.11" y1="957.4" x2="1195.31" y2="957.4" stroke="#222" stroke-width="1.35" />
<line x1="1187.11" y1="958.4" x2="1195.31" y2="958.4" stroke="#222" stroke-width="1.35" />
<line x1="1206.21" y1="993.2" x2="1206.21" y2="993.8" stroke="#222" stroke-width="1.35" />
<line x1="1202.11" y1="993.2" x2="1210.31" y2="993.2" stroke="#222" stroke-width="1.35" />
<line x1="1202.11" y1="993.8" x2="1210.31" y2="993.8" stroke="#222" stroke-width="1.35" />
<line x1="1221.21" y1="972" x2="1221.21" y2="972.6" stroke="#222" stroke-width="1.35" />
<line x1="1217.11" y1="972" x2="1225.31" y2="972" stroke="#222" stroke-width="1.35" />
<line x1="1217.11" y1="972.6" x2="1225.31" y2="972.6" stroke="#222" stroke-width="1.35" />
<line x1="1236.22" y1="972.7" x2="1236.22" y2="973.3" stroke="#222" stroke-width="1.35" />
<line x1="1232.12" y1="972.7" x2="1240.32" y2="972.7" stroke="#222" stroke-width="1.35" />
<line x1="1232.12" y1="973.3" x2="1240.32" y2="973.3" stroke="#222" stroke-width="1.35" />
<line x1="1251.22" y1="968.6" x2="1251.22" y2="982.6" stroke="#222" stroke-width="1.35" />
<line x1="1247.12" y1="968.6" x2="1255.32" y2="968.6" stroke="#222" stroke-width="1.35" />
<line x1="1247.12" y1="982.6" x2="1255.32" y2="982.6" stroke="#222" stroke-width="1.35" />
<line x1="1266.23" y1="973.6" x2="1266.23" y2="985.2" stroke="#222" stroke-width="1.35" />
<line x1="1262.13" y1="973.6" x2="1270.33" y2="973.6" stroke="#222" stroke-width="1.35" />
<line x1="1262.13" y1="985.2" x2="1270.33" y2="985.2" stroke="#222" stroke-width="1.35" />
<line x1="1281.23" y1="969.1" x2="1281.23" y2="995.1" stroke="#222" stroke-width="1.35" />
<line x1="1277.13" y1="969.1" x2="1285.33" y2="969.1" stroke="#222" stroke-width="1.35" />
<line x1="1277.13" y1="995.1" x2="1285.33" y2="995.1" stroke="#222" stroke-width="1.35" />
<line x1="1296.23" y1="985.5" x2="1296.23" y2="986.1" stroke="#222" stroke-width="1.35" />
<line x1="1292.13" y1="985.5" x2="1300.33" y2="985.5" stroke="#222" stroke-width="1.35" />
<line x1="1292.13" y1="986.1" x2="1300.33" y2="986.1" stroke="#222" stroke-width="1.35" />
<line x1="1311.24" y1="988.2" x2="1311.24" y2="988.8" stroke="#222" stroke-width="1.35" />
<line x1="1307.14" y1="988.2" x2="1315.34" y2="988.2" stroke="#222" stroke-width="1.35" />
<line x1="1307.14" y1="988.8" x2="1315.34" y2="988.8" stroke="#222" stroke-width="1.35" />
<line x1="1326.24" y1="989.8" x2="1326.24" y2="992.6" stroke="#222" stroke-width="1.35" />
<line x1="1322.14" y1="989.8" x2="1330.34" y2="989.8" stroke="#222" stroke-width="1.35" />
<line x1="1322.14" y1="992.6" x2="1330.34" y2="992.6" stroke="#222" stroke-width="1.35" />
<line x1="1341.25" y1="996.5" x2="1341.25" y2="999.3" stroke="#222" stroke-width="1.35" />
<line x1="1337.15" y1="996.5" x2="1345.35" y2="996.5" stroke="#222" stroke-width="1.35" />
<line x1="1337.15" y1="999.3" x2="1345.35" y2="999.3" stroke="#222" stroke-width="1.35" />
<line x1="1356.25" y1="1012.6" x2="1356.25" y2="1013.2" stroke="#222" stroke-width="1.35" />
<line x1="1352.15" y1="1012.6" x2="1360.35" y2="1012.6" stroke="#222" stroke-width="1.35" />
<line x1="1352.15" y1="1013.2" x2="1360.35" y2="1013.2" stroke="#222" stroke-width="1.35" />
<line x1="1371.25" y1="1018.8" x2="1371.25" y2="1030.2" stroke="#222" stroke-width="1.35" />
<line x1="1367.15" y1="1018.8" x2="1375.35" y2="1018.8" stroke="#222" stroke-width="1.35" />
<line x1="1367.15" y1="1030.2" x2="1375.35" y2="1030.2" stroke="#222" stroke-width="1.35" />
<line x1="1386.26" y1="1034.6" x2="1386.26" y2="1036.6" stroke="#222" stroke-width="1.35" />
<line x1="1382.16" y1="1034.6" x2="1390.36" y2="1034.6" stroke="#222" stroke-width="1.35" />
<line x1="1382.16" y1="1036.6" x2="1390.36" y2="1036.6" stroke="#222" stroke-width="1.35" />
<line x1="1401.26" y1="1049.5" x2="1401.26" y2="1052.1" stroke="#222" stroke-width="1.35" />
<line x1="1397.16" y1="1049.5" x2="1405.36" y2="1049.5" stroke="#222" stroke-width="1.35" />
<line x1="1397.16" y1="1052.1" x2="1405.36" y2="1052.1" stroke="#222" stroke-width="1.35" />
<line x1="1416.27" y1="1068.9" x2="1416.27" y2="1070.5" stroke="#222" stroke-width="1.35" />
<line x1="1412.17" y1="1068.9" x2="1420.37" y2="1068.9" stroke="#222" stroke-width="1.35" />
<line x1="1412.17" y1="1070.5" x2="1420.37" y2="1070.5" stroke="#222" stroke-width="1.35" />
<line x1="1431.27" y1="1084.1" x2="1431.27" y2="1086.5" stroke="#222" stroke-width="1.35" />
<line x1="1427.17" y1="1084.1" x2="1435.37" y2="1084.1" stroke="#222" stroke-width="1.35" />
<line x1="1427.17" y1="1086.5" x2="1435.37" y2="1086.5" stroke="#222" stroke-width="1.35" />
<line x1="1446.27" y1="1090.1" x2="1446.27" y2="1091.7" stroke="#222" stroke-width="1.35" />
<line x1="1442.17" y1="1090.1" x2="1450.37" y2="1090.1" stroke="#222" stroke-width="1.35" />
<line x1="1442.17" y1="1091.7" x2="1450.37" y2="1091.7" stroke="#222" stroke-width="1.35" />
<line x1="1461.28" y1="1079" x2="1461.28" y2="1090" stroke="#222" stroke-width="1.35" />
<line x1="1457.18" y1="1079" x2="1465.38" y2="1079" stroke="#222" stroke-width="1.35" />
<line x1="1457.18" y1="1090" x2="1465.38" y2="1090" stroke="#222" stroke-width="1.35" />
<line x1="1476.28" y1="1100.1" x2="1476.28" y2="1103.5" stroke="#222" stroke-width="1.35" />
<line x1="1472.18" y1="1100.1" x2="1480.38" y2="1100.1" stroke="#222" stroke-width="1.35" />
<line x1="1472.18" y1="1103.5" x2="1480.38" y2="1103.5" stroke="#222" stroke-width="1.35" />
<line x1="1491.29" y1="1112.6" x2="1491.29" y2="1114.6" stroke="#222" stroke-width="1.35" />
<line x1="1487.19" y1="1112.6" x2="1495.39" y2="1112.6" stroke="#222" stroke-width="1.35" />
<line x1="1487.19" y1="1114.6" x2="1495.39" y2="1114.6" stroke="#222" stroke-width="1.35" />
<line x1="1506.29" y1="1114.8" x2="1506.29" y2="1115.6" stroke="#222" stroke-width="1.35" />
<line x1="1502.19" y1="1114.8" x2="1510.39" y2="1114.8" stroke="#222" stroke-width="1.35" />
<line x1="1502.19" y1="1115.6" x2="1510.39" y2="1115.6" stroke="#222" stroke-width="1.35" />
<line x1="1521.29" y1="1115.2" x2="1521.29" y2="1115.8" stroke="#222" stroke-width="1.35" />
<line x1="1517.19" y1="1115.2" x2="1525.39" y2="1115.2" stroke="#222" stroke-width="1.35" />
<line x1="1517.19" y1="1115.8" x2="1525.39" y2="1115.8" stroke="#222" stroke-width="1.35" />
<line x1="1536.3" y1="1137.6" x2="1536.3" y2="1138.8" stroke="#222" stroke-width="1.35" />
<line x1="1532.2" y1="1137.6" x2="1540.4" y2="1137.6" stroke="#222" stroke-width="1.35" />
<line x1="1532.2" y1="1138.8" x2="1540.4" y2="1138.8" stroke="#222" stroke-width="1.35" />
<line x1="1176.2" y1="938.1" x2="1176.2" y2="938.9" stroke="#222" stroke-width="1.35" />
<line x1="1172.1" y1="938.1" x2="1180.3" y2="938.1" stroke="#222" stroke-width="1.35" />
<line x1="1172.1" y1="938.9" x2="1180.3" y2="938.9" stroke="#222" stroke-width="1.35" />
<line x1="1191.21" y1="933.5" x2="1191.21" y2="953.1" stroke="#222" stroke-width="1.35" />
<line x1="1187.11" y1="933.5" x2="1195.31" y2="933.5" stroke="#222" stroke-width="1.35" />
<line x1="1187.11" y1="953.1" x2="1195.31" y2="953.1" stroke="#222" stroke-width="1.35" />
<line x1="1206.21" y1="934.4" x2="1206.21" y2="960.8" stroke="#222" stroke-width="1.35" />
<line x1="1202.11" y1="934.4" x2="1210.31" y2="934.4" stroke="#222" stroke-width="1.35" />
<line x1="1202.11" y1="960.8" x2="1210.31" y2="960.8" stroke="#222" stroke-width="1.35" />
<line x1="1221.21" y1="946.8" x2="1221.21" y2="951.4" stroke="#222" stroke-width="1.35" />
<line x1="1217.11" y1="946.8" x2="1225.31" y2="946.8" stroke="#222" stroke-width="1.35" />
<line x1="1217.11" y1="951.4" x2="1225.31" y2="951.4" stroke="#222" stroke-width="1.35" />
<line x1="1236.22" y1="949.3" x2="1236.22" y2="957.9" stroke="#222" stroke-width="1.35" />
<line x1="1232.12" y1="949.3" x2="1240.32" y2="949.3" stroke="#222" stroke-width="1.35" />
<line x1="1232.12" y1="957.9" x2="1240.32" y2="957.9" stroke="#222" stroke-width="1.35" />
<line x1="1251.22" y1="962.7" x2="1251.22" y2="965.7" stroke="#222" stroke-width="1.35" />
<line x1="1247.12" y1="962.7" x2="1255.32" y2="962.7" stroke="#222" stroke-width="1.35" />
<line x1="1247.12" y1="965.7" x2="1255.32" y2="965.7" stroke="#222" stroke-width="1.35" />
<line x1="1266.23" y1="988.4" x2="1266.23" y2="990" stroke="#222" stroke-width="1.35" />
<line x1="1262.13" y1="988.4" x2="1270.33" y2="988.4" stroke="#222" stroke-width="1.35" />
<line x1="1262.13" y1="990" x2="1270.33" y2="990" stroke="#222" stroke-width="1.35" />
<line x1="1281.23" y1="1017.5" x2="1281.23" y2="1018.5" stroke="#222" stroke-width="1.35" />
<line x1="1277.13" y1="1017.5" x2="1285.33" y2="1017.5" stroke="#222" stroke-width="1.35" />
<line x1="1277.13" y1="1018.5" x2="1285.33" y2="1018.5" stroke="#222" stroke-width="1.35" />
<line x1="1296.23" y1="1029.8" x2="1296.23" y2="1030.6" stroke="#222" stroke-width="1.35" />
<line x1="1292.13" y1="1029.8" x2="1300.33" y2="1029.8" stroke="#222" stroke-width="1.35" />
<line x1="1292.13" y1="1030.6" x2="1300.33" y2="1030.6" stroke="#222" stroke-width="1.35" />
<line x1="1311.24" y1="1029.9" x2="1311.24" y2="1030.7" stroke="#222" stroke-width="1.35" />
<line x1="1307.14" y1="1029.9" x2="1315.34" y2="1029.9" stroke="#222" stroke-width="1.35" />
<line x1="1307.14" y1="1030.7" x2="1315.34" y2="1030.7" stroke="#222" stroke-width="1.35" />
<line x1="1326.24" y1="1030.8" x2="1326.24" y2="1031.6" stroke="#222" stroke-width="1.35" />
<line x1="1322.14" y1="1030.8" x2="1330.34" y2="1030.8" stroke="#222" stroke-width="1.35" />
<line x1="1322.14" y1="1031.6" x2="1330.34" y2="1031.6" stroke="#222" stroke-width="1.35" />
<line x1="1341.25" y1="1033.2" x2="1341.25" y2="1037.2" stroke="#222" stroke-width="1.35" />
<line x1="1337.15" y1="1033.2" x2="1345.35" y2="1033.2" stroke="#222" stroke-width="1.35" />
<line x1="1337.15" y1="1037.2" x2="1345.35" y2="1037.2" stroke="#222" stroke-width="1.35" />
<line x1="1356.25" y1="1032.5" x2="1356.25" y2="1043.3" stroke="#222" stroke-width="1.35" />
<line x1="1352.15" y1="1032.5" x2="1360.35" y2="1032.5" stroke="#222" stroke-width="1.35" />
<line x1="1352.15" y1="1043.3" x2="1360.35" y2="1043.3" stroke="#222" stroke-width="1.35" />
<line x1="1371.25" y1="1055.4" x2="1371.25" y2="1061.2" stroke="#222" stroke-width="1.35" />
<line x1="1367.15" y1="1055.4" x2="1375.35" y2="1055.4" stroke="#222" stroke-width="1.35" />
<line x1="1367.15" y1="1061.2" x2="1375.35" y2="1061.2" stroke="#222" stroke-width="1.35" />
<line x1="1386.26" y1="1085.6" x2="1386.26" y2="1090.2" stroke="#222" stroke-width="1.35" />
<line x1="1382.16" y1="1085.6" x2="1390.36" y2="1085.6" stroke="#222" stroke-width="1.35" />
<line x1="1382.16" y1="1090.2" x2="1390.36" y2="1090.2" stroke="#222" stroke-width="1.35" />
<line x1="1401.26" y1="1096" x2="1401.26" y2="1099.4" stroke="#222" stroke-width="1.35" />
<line x1="1397.16" y1="1096" x2="1405.36" y2="1096" stroke="#222" stroke-width="1.35" />
<line x1="1397.16" y1="1099.4" x2="1405.36" y2="1099.4" stroke="#222" stroke-width="1.35" />
<line x1="1416.27" y1="1103.3" x2="1416.27" y2="1106.3" stroke="#222" stroke-width="1.35" />
<line x1="1412.17" y1="1103.3" x2="1420.37" y2="1103.3" stroke="#222" stroke-width="1.35" />
<line x1="1412.17" y1="1106.3" x2="1420.37" y2="1106.3" stroke="#222" stroke-width="1.35" />
<line x1="1431.27" y1="1108.4" x2="1431.27" y2="1112.2" stroke="#222" stroke-width="1.35" />
<line x1="1427.17" y1="1108.4" x2="1435.37" y2="1108.4" stroke="#222" stroke-width="1.35" />
<line x1="1427.17" y1="1112.2" x2="1435.37" y2="1112.2" stroke="#222" stroke-width="1.35" />
<line x1="1446.27" y1="1117.2" x2="1446.27" y2="1119.2" stroke="#222" stroke-width="1.35" />
<line x1="1442.17" y1="1117.2" x2="1450.37" y2="1117.2" stroke="#222" stroke-width="1.35" />
<line x1="1442.17" y1="1119.2" x2="1450.37" y2="1119.2" stroke="#222" stroke-width="1.35" />
<line x1="1461.28" y1="1116" x2="1461.28" y2="1133" stroke="#222" stroke-width="1.35" />
<line x1="1457.18" y1="1116" x2="1465.38" y2="1116" stroke="#222" stroke-width="1.35" />
<line x1="1457.18" y1="1133" x2="1465.38" y2="1133" stroke="#222" stroke-width="1.35" />
<line x1="1476.28" y1="1156.4" x2="1476.28" y2="1164.8" stroke="#222" stroke-width="1.35" />
<line x1="1472.18" y1="1156.4" x2="1480.38" y2="1156.4" stroke="#222" stroke-width="1.35" />
<line x1="1472.18" y1="1164.8" x2="1480.38" y2="1164.8" stroke="#222" stroke-width="1.35" />
<line x1="1491.29" y1="1163.6" x2="1491.29" y2="1164.6" stroke="#222" stroke-width="1.35" />
<line x1="1487.19" y1="1163.6" x2="1495.39" y2="1163.6" stroke="#222" stroke-width="1.35" />
<line x1="1487.19" y1="1164.6" x2="1495.39" y2="1164.6" stroke="#222" stroke-width="1.35" />
<line x1="1506.29" y1="1168.2" x2="1506.29" y2="1172.8" stroke="#222" stroke-width="1.35" />
<line x1="1502.19" y1="1168.2" x2="1510.39" y2="1168.2" stroke="#222" stroke-width="1.35" />
<line x1="1502.19" y1="1172.8" x2="1510.39" y2="1172.8" stroke="#222" stroke-width="1.35" />
<line x1="1521.29" y1="1172.2" x2="1521.29" y2="1177.8" stroke="#222" stroke-width="1.35" />
<line x1="1517.19" y1="1172.2" x2="1525.39" y2="1172.2" stroke="#222" stroke-width="1.35" />
<line x1="1517.19" y1="1177.8" x2="1525.39" y2="1177.8" stroke="#222" stroke-width="1.35" />
<line x1="1536.3" y1="1178.5" x2="1536.3" y2="1179.1" stroke="#222" stroke-width="1.35" />
<line x1="1532.2" y1="1178.5" x2="1540.4" y2="1178.5" stroke="#222" stroke-width="1.35" />
<line x1="1532.2" y1="1179.1" x2="1540.4" y2="1179.1" stroke="#222" stroke-width="1.35" />
<path d="M1176.2 938.5 L1191.21 957.9 L1206.21 993.5 L1221.21 972.3 L1236.22 973 L1251.22 975.6 L1266.23 979.4 L1281.23 982.1 L1296.23 985.8 L1311.24 988.5 L1326.24 991.2 L1341.25 997.9 L1356.25 1012.9 L1371.25 1024.5 L1386.26 1035.6 L1401.26 1050.8 L1416.27 1069.7 L1431.27 1085.3 L1446.27 1090.9 L1461.28 1084.5 L1476.28 1101.8 L1491.29 1113.6 L1506.29 1115.2 L1521.29 1115.5 L1536.3 1138.2" stroke="#111" stroke-width="1.4" fill="none" stroke-linejoin="round"/>
<path d="M1176.2 938.5 C1177.85 939.03 1187.91 942.3 1191.21 943.3 C1194.51 944.3 1202.91 946.96 1206.21 947.6 C1209.51 948.24 1217.91 948.44 1221.21 949.1 C1224.51 949.76 1232.92 951.94 1236.22 953.6 C1239.52 955.26 1247.92 960.28 1251.22 964.2 C1254.52 968.12 1262.93 983.28 1266.23 989.2 C1269.53 995.12 1277.93 1013.49 1281.23 1018 C1284.53 1022.51 1292.93 1028.85 1296.23 1030.2 C1299.53 1031.55 1307.94 1030.19 1311.24 1030.3 C1314.54 1030.41 1322.94 1030.66 1326.24 1031.2 C1329.54 1031.74 1337.95 1034.46 1341.25 1035.2 C1344.55 1035.94 1352.95 1035.36 1356.25 1037.9 C1359.55 1040.44 1367.95 1052.8 1371.25 1058.3 L1386.26 1087.9 L1401.26 1097.7 L1416.27 1104.8 L1431.27 1110.3 L1446.27 1118.2 L1461.28 1124.5 L1476.28 1160.6 L1491.29 1164.1 L1506.29 1170.5 L1521.29 1175 L1536.3 1178.8" stroke="#e02a1c" stroke-width="1.6" fill="none" stroke-linejoin="round"/>
<line x1="1565.9" y1="1083.8" x2="1588.1" y2="1083.8" stroke="#111" stroke-width="2.2" />
<text x="1597.6" y="1088.5" font-size="16.5" fill="#111" stroke="#111" stroke-width="0.33" textLength="27.19" lengthAdjust="spacingAndGlyphs">WT</text>
<line x1="1565.9" y1="1112" x2="1588.1" y2="1112" stroke="#e8483a" stroke-width="2.2" />
<text x="1597.3" y="1116.7" font-size="16.5" fill="#111" stroke="#111" stroke-width="0.33" textLength="54.26" lengthAdjust="spacingAndGlyphs">AR100</text>
</g>
</svg>
</body></html>
